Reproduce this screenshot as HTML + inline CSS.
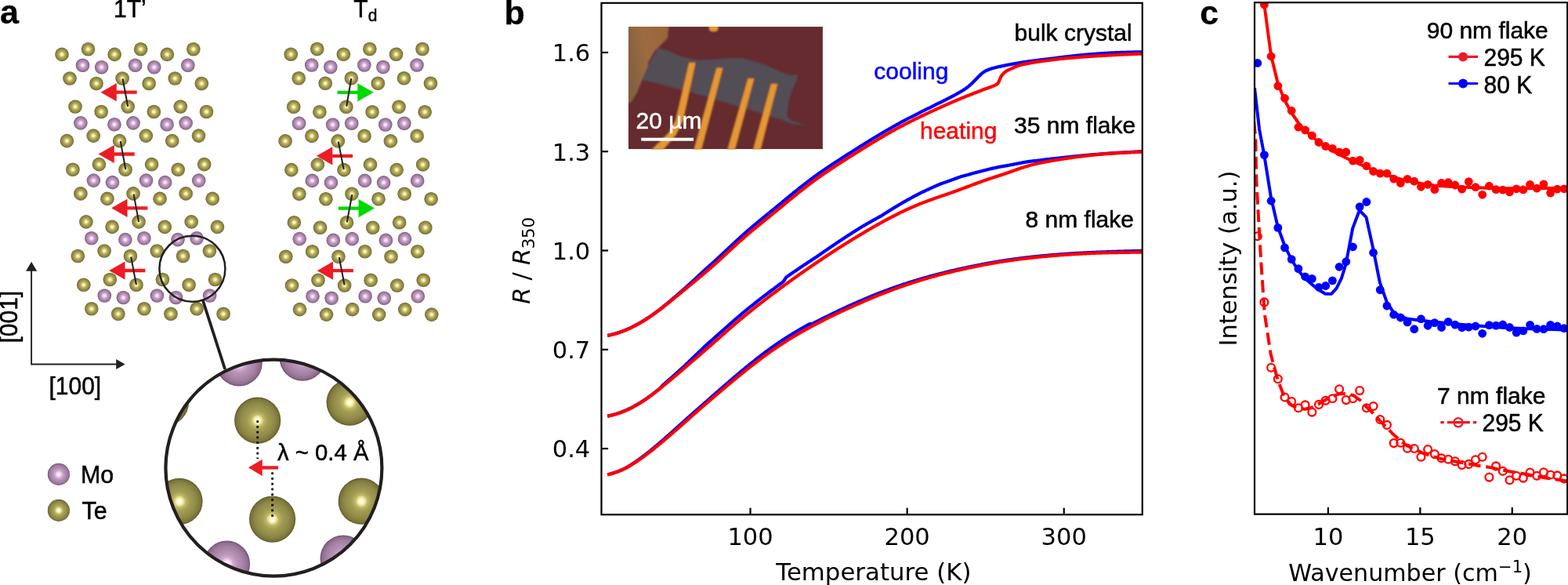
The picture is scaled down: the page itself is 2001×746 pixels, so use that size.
<!DOCTYPE html>
<html><head><meta charset="utf-8"><title>Figure</title>
<style>
html,body{margin:0;padding:0;background:#fff;width:2001px;height:746px;overflow:hidden;}
svg{display:block;}
text{white-space:pre;}
.ar{font-family:'Liberation Sans',sans-serif;stroke-width:0.5px;stroke-linejoin:round;}
.dv{font-family:'DejaVu Sans','Liberation Sans',sans-serif;}
</style></head>
<body>
<svg width="2001" height="746" viewBox="0 0 2001 746">
<rect x="0" y="0" width="2001" height="746" fill="#fff"/>

<defs>
<radialGradient id="gTe" cx="50%" cy="50%" r="50%">
<stop offset="0" stop-color="#ffffdc"/>
<stop offset="0.14" stop-color="#fbfab4"/>
<stop offset="0.36" stop-color="#c6be6a"/>
<stop offset="0.6" stop-color="#a29a4e"/>
<stop offset="0.85" stop-color="#878040"/>
<stop offset="1" stop-color="#666030"/>
</radialGradient>
<radialGradient id="gMo" cx="50%" cy="50%" r="50%">
<stop offset="0" stop-color="#ffffff"/>
<stop offset="0.14" stop-color="#fde8fd"/>
<stop offset="0.36" stop-color="#d2aad2"/>
<stop offset="0.6" stop-color="#b48eb4"/>
<stop offset="0.85" stop-color="#977497"/>
<stop offset="1" stop-color="#735473"/>
</radialGradient>
<radialGradient id="gTeB" cx="50%" cy="50%" r="50%">
<stop offset="0" stop-color="#ffffff"/>
<stop offset="0.06" stop-color="#ffffea"/>
<stop offset="0.15" stop-color="#f4f0a4"/>
<stop offset="0.27" stop-color="#beb666"/>
<stop offset="0.44" stop-color="#a29c53"/>
<stop offset="0.75" stop-color="#8e8847"/>
<stop offset="0.92" stop-color="#79743a"/>
<stop offset="1" stop-color="#5e5a2b"/>
</radialGradient>
<radialGradient id="gMoB" cx="50%" cy="50%" r="50%">
<stop offset="0" stop-color="#ffffff"/>
<stop offset="0.07" stop-color="#fff4ff"/>
<stop offset="0.16" stop-color="#f4d6f4"/>
<stop offset="0.28" stop-color="#d0aad0"/>
<stop offset="0.44" stop-color="#b994b9"/>
<stop offset="0.75" stop-color="#a280a2"/>
<stop offset="0.92" stop-color="#8c6c8c"/>
<stop offset="1" stop-color="#6c506c"/>
</radialGradient>
<radialGradient id="gTeL" cx="50%" cy="50%" r="50%">
<stop offset="0" stop-color="#ffffff"/>
<stop offset="0.08" stop-color="#ffffe4"/>
<stop offset="0.2" stop-color="#f0eca0"/>
<stop offset="0.36" stop-color="#bab264"/>
<stop offset="0.55" stop-color="#a09a52"/>
<stop offset="0.8" stop-color="#8c8646"/>
<stop offset="0.93" stop-color="#777239"/>
<stop offset="1" stop-color="#605c2c"/>
</radialGradient>
<radialGradient id="gMoL" cx="50%" cy="50%" r="50%">
<stop offset="0" stop-color="#ffffff"/>
<stop offset="0.08" stop-color="#fff2ff"/>
<stop offset="0.2" stop-color="#f0d2f0"/>
<stop offset="0.36" stop-color="#cca8cc"/>
<stop offset="0.55" stop-color="#b692b6"/>
<stop offset="0.8" stop-color="#a07ea0"/>
<stop offset="0.93" stop-color="#8a6a8a"/>
<stop offset="1" stop-color="#6e526e"/>
</radialGradient>
<clipPath id="bigclip"><circle cx="349.4" cy="596.7" r="138"/></clipPath>
<clipPath id="clipB"><rect x="767.5" y="3.8" width="690.3" height="652.45"/></clipPath>
<clipPath id="clipC"><rect x="1601" y="3.8" width="400" height="652.45"/></clipPath>
<clipPath id="clipImg"><rect x="802" y="34" width="248" height="156.5"/></clipPath>
</defs>

<g id="atoms"><circle cx="79.00" cy="69.40" r="8.8" fill="url(#gTe)"/>
<circle cx="112.50" cy="62.70" r="8.8" fill="url(#gTe)"/>
<circle cx="89.00" cy="100.00" r="8.8" fill="url(#gTe)"/>
<circle cx="123.00" cy="106.50" r="8.8" fill="url(#gTe)"/>
<circle cx="146.15" cy="69.40" r="8.8" fill="url(#gTe)"/>
<circle cx="179.65" cy="62.70" r="8.8" fill="url(#gTe)"/>
<circle cx="156.15" cy="100.00" r="8.8" fill="url(#gTe)"/>
<circle cx="190.15" cy="106.50" r="8.8" fill="url(#gTe)"/>
<circle cx="213.30" cy="69.40" r="8.8" fill="url(#gTe)"/>
<circle cx="246.80" cy="62.70" r="8.8" fill="url(#gTe)"/>
<circle cx="223.30" cy="100.00" r="8.8" fill="url(#gTe)"/>
<circle cx="257.30" cy="106.50" r="8.8" fill="url(#gTe)"/>
<circle cx="96.00" cy="136.00" r="8.8" fill="url(#gTe)"/>
<circle cx="129.20" cy="142.50" r="8.8" fill="url(#gTe)"/>
<circle cx="85.40" cy="179.60" r="8.8" fill="url(#gTe)"/>
<circle cx="119.20" cy="173.10" r="8.8" fill="url(#gTe)"/>
<circle cx="163.15" cy="136.00" r="8.8" fill="url(#gTe)"/>
<circle cx="196.35" cy="142.50" r="8.8" fill="url(#gTe)"/>
<circle cx="152.55" cy="179.60" r="8.8" fill="url(#gTe)"/>
<circle cx="186.35" cy="173.10" r="8.8" fill="url(#gTe)"/>
<circle cx="230.30" cy="136.00" r="8.8" fill="url(#gTe)"/>
<circle cx="263.50" cy="142.50" r="8.8" fill="url(#gTe)"/>
<circle cx="219.70" cy="179.60" r="8.8" fill="url(#gTe)"/>
<circle cx="253.50" cy="173.10" r="8.8" fill="url(#gTe)"/>
<circle cx="92.90" cy="216.30" r="8.8" fill="url(#gTe)"/>
<circle cx="126.40" cy="209.60" r="8.8" fill="url(#gTe)"/>
<circle cx="102.90" cy="246.90" r="8.8" fill="url(#gTe)"/>
<circle cx="136.90" cy="253.40" r="8.8" fill="url(#gTe)"/>
<circle cx="160.05" cy="216.30" r="8.8" fill="url(#gTe)"/>
<circle cx="193.55" cy="209.60" r="8.8" fill="url(#gTe)"/>
<circle cx="170.05" cy="246.90" r="8.8" fill="url(#gTe)"/>
<circle cx="204.05" cy="253.40" r="8.8" fill="url(#gTe)"/>
<circle cx="227.20" cy="216.30" r="8.8" fill="url(#gTe)"/>
<circle cx="260.70" cy="209.60" r="8.8" fill="url(#gTe)"/>
<circle cx="237.20" cy="246.90" r="8.8" fill="url(#gTe)"/>
<circle cx="271.20" cy="253.40" r="8.8" fill="url(#gTe)"/>
<circle cx="109.90" cy="282.90" r="8.8" fill="url(#gTe)"/>
<circle cx="143.10" cy="289.40" r="8.8" fill="url(#gTe)"/>
<circle cx="99.30" cy="326.50" r="8.8" fill="url(#gTe)"/>
<circle cx="133.10" cy="320.00" r="8.8" fill="url(#gTe)"/>
<circle cx="177.05" cy="282.90" r="8.8" fill="url(#gTe)"/>
<circle cx="210.25" cy="289.40" r="8.8" fill="url(#gTe)"/>
<circle cx="166.45" cy="326.50" r="8.8" fill="url(#gTe)"/>
<circle cx="200.25" cy="320.00" r="8.8" fill="url(#gTe)"/>
<circle cx="244.20" cy="282.90" r="8.8" fill="url(#gTe)"/>
<circle cx="277.40" cy="289.40" r="8.8" fill="url(#gTe)"/>
<circle cx="233.60" cy="326.50" r="8.8" fill="url(#gTe)"/>
<circle cx="267.40" cy="320.00" r="8.8" fill="url(#gTe)"/>
<circle cx="106.80" cy="363.20" r="8.8" fill="url(#gTe)"/>
<circle cx="140.30" cy="356.50" r="8.8" fill="url(#gTe)"/>
<circle cx="116.80" cy="393.80" r="8.8" fill="url(#gTe)"/>
<circle cx="150.80" cy="400.30" r="8.8" fill="url(#gTe)"/>
<circle cx="173.95" cy="363.20" r="8.8" fill="url(#gTe)"/>
<circle cx="207.45" cy="356.50" r="8.8" fill="url(#gTe)"/>
<circle cx="183.95" cy="393.80" r="8.8" fill="url(#gTe)"/>
<circle cx="217.95" cy="400.30" r="8.8" fill="url(#gTe)"/>
<circle cx="241.10" cy="363.20" r="8.8" fill="url(#gTe)"/>
<circle cx="274.60" cy="356.50" r="8.8" fill="url(#gTe)"/>
<circle cx="251.10" cy="393.80" r="8.8" fill="url(#gTe)"/>
<circle cx="285.10" cy="400.30" r="8.8" fill="url(#gTe)"/>
<circle cx="371.20" cy="69.20" r="8.8" fill="url(#gTe)"/>
<circle cx="404.70" cy="62.50" r="8.8" fill="url(#gTe)"/>
<circle cx="381.20" cy="99.80" r="8.8" fill="url(#gTe)"/>
<circle cx="415.20" cy="106.30" r="8.8" fill="url(#gTe)"/>
<circle cx="438.35" cy="69.20" r="8.8" fill="url(#gTe)"/>
<circle cx="471.85" cy="62.50" r="8.8" fill="url(#gTe)"/>
<circle cx="448.35" cy="99.80" r="8.8" fill="url(#gTe)"/>
<circle cx="482.35" cy="106.30" r="8.8" fill="url(#gTe)"/>
<circle cx="505.50" cy="69.20" r="8.8" fill="url(#gTe)"/>
<circle cx="539.00" cy="62.50" r="8.8" fill="url(#gTe)"/>
<circle cx="515.50" cy="99.80" r="8.8" fill="url(#gTe)"/>
<circle cx="549.50" cy="106.30" r="8.8" fill="url(#gTe)"/>
<circle cx="374.70" cy="136.30" r="8.8" fill="url(#gTe)"/>
<circle cx="407.90" cy="142.80" r="8.8" fill="url(#gTe)"/>
<circle cx="364.10" cy="179.90" r="8.8" fill="url(#gTe)"/>
<circle cx="397.90" cy="173.40" r="8.8" fill="url(#gTe)"/>
<circle cx="441.85" cy="136.30" r="8.8" fill="url(#gTe)"/>
<circle cx="475.05" cy="142.80" r="8.8" fill="url(#gTe)"/>
<circle cx="431.25" cy="179.90" r="8.8" fill="url(#gTe)"/>
<circle cx="465.05" cy="173.40" r="8.8" fill="url(#gTe)"/>
<circle cx="509.00" cy="136.30" r="8.8" fill="url(#gTe)"/>
<circle cx="542.20" cy="142.80" r="8.8" fill="url(#gTe)"/>
<circle cx="498.40" cy="179.90" r="8.8" fill="url(#gTe)"/>
<circle cx="532.20" cy="173.40" r="8.8" fill="url(#gTe)"/>
<circle cx="371.85" cy="216.60" r="8.8" fill="url(#gTe)"/>
<circle cx="405.35" cy="209.90" r="8.8" fill="url(#gTe)"/>
<circle cx="381.85" cy="247.20" r="8.8" fill="url(#gTe)"/>
<circle cx="415.85" cy="253.70" r="8.8" fill="url(#gTe)"/>
<circle cx="439.00" cy="216.60" r="8.8" fill="url(#gTe)"/>
<circle cx="472.50" cy="209.90" r="8.8" fill="url(#gTe)"/>
<circle cx="449.00" cy="247.20" r="8.8" fill="url(#gTe)"/>
<circle cx="483.00" cy="253.70" r="8.8" fill="url(#gTe)"/>
<circle cx="506.15" cy="216.60" r="8.8" fill="url(#gTe)"/>
<circle cx="539.65" cy="209.90" r="8.8" fill="url(#gTe)"/>
<circle cx="516.15" cy="247.20" r="8.8" fill="url(#gTe)"/>
<circle cx="550.15" cy="253.70" r="8.8" fill="url(#gTe)"/>
<circle cx="375.35" cy="283.70" r="8.8" fill="url(#gTe)"/>
<circle cx="408.55" cy="290.20" r="8.8" fill="url(#gTe)"/>
<circle cx="364.75" cy="327.30" r="8.8" fill="url(#gTe)"/>
<circle cx="398.55" cy="320.80" r="8.8" fill="url(#gTe)"/>
<circle cx="442.50" cy="283.70" r="8.8" fill="url(#gTe)"/>
<circle cx="475.70" cy="290.20" r="8.8" fill="url(#gTe)"/>
<circle cx="431.90" cy="327.30" r="8.8" fill="url(#gTe)"/>
<circle cx="465.70" cy="320.80" r="8.8" fill="url(#gTe)"/>
<circle cx="509.65" cy="283.70" r="8.8" fill="url(#gTe)"/>
<circle cx="542.85" cy="290.20" r="8.8" fill="url(#gTe)"/>
<circle cx="499.05" cy="327.30" r="8.8" fill="url(#gTe)"/>
<circle cx="532.85" cy="320.80" r="8.8" fill="url(#gTe)"/>
<circle cx="372.50" cy="364.00" r="8.8" fill="url(#gTe)"/>
<circle cx="406.00" cy="357.30" r="8.8" fill="url(#gTe)"/>
<circle cx="382.50" cy="394.60" r="8.8" fill="url(#gTe)"/>
<circle cx="416.50" cy="401.10" r="8.8" fill="url(#gTe)"/>
<circle cx="439.65" cy="364.00" r="8.8" fill="url(#gTe)"/>
<circle cx="473.15" cy="357.30" r="8.8" fill="url(#gTe)"/>
<circle cx="449.65" cy="394.60" r="8.8" fill="url(#gTe)"/>
<circle cx="483.65" cy="401.10" r="8.8" fill="url(#gTe)"/>
<circle cx="506.80" cy="364.00" r="8.8" fill="url(#gTe)"/>
<circle cx="540.30" cy="357.30" r="8.8" fill="url(#gTe)"/>
<circle cx="516.80" cy="394.60" r="8.8" fill="url(#gTe)"/>
<circle cx="550.80" cy="401.10" r="8.8" fill="url(#gTe)"/>
<circle cx="105.50" cy="83.20" r="8.8" fill="url(#gMo)"/>
<circle cx="129.60" cy="85.70" r="8.8" fill="url(#gMo)"/>
<circle cx="172.65" cy="83.20" r="8.8" fill="url(#gMo)"/>
<circle cx="196.75" cy="85.70" r="8.8" fill="url(#gMo)"/>
<circle cx="239.80" cy="83.20" r="8.8" fill="url(#gMo)"/>
<circle cx="102.85" cy="156.90" r="8.8" fill="url(#gMo)"/>
<circle cx="145.95" cy="158.70" r="8.8" fill="url(#gMo)"/>
<circle cx="170.00" cy="156.90" r="8.8" fill="url(#gMo)"/>
<circle cx="213.10" cy="158.70" r="8.8" fill="url(#gMo)"/>
<circle cx="237.15" cy="156.90" r="8.8" fill="url(#gMo)"/>
<circle cx="119.40" cy="230.10" r="8.8" fill="url(#gMo)"/>
<circle cx="143.50" cy="232.60" r="8.8" fill="url(#gMo)"/>
<circle cx="186.55" cy="230.10" r="8.8" fill="url(#gMo)"/>
<circle cx="210.65" cy="232.60" r="8.8" fill="url(#gMo)"/>
<circle cx="253.70" cy="230.10" r="8.8" fill="url(#gMo)"/>
<circle cx="116.75" cy="303.80" r="8.8" fill="url(#gMo)"/>
<circle cx="159.85" cy="305.60" r="8.8" fill="url(#gMo)"/>
<circle cx="183.90" cy="303.80" r="8.8" fill="url(#gMo)"/>
<circle cx="227.00" cy="305.60" r="8.8" fill="url(#gMo)"/>
<circle cx="251.05" cy="303.80" r="8.8" fill="url(#gMo)"/>
<circle cx="133.30" cy="377.00" r="8.8" fill="url(#gMo)"/>
<circle cx="157.40" cy="379.50" r="8.8" fill="url(#gMo)"/>
<circle cx="200.45" cy="377.00" r="8.8" fill="url(#gMo)"/>
<circle cx="224.55" cy="379.50" r="8.8" fill="url(#gMo)"/>
<circle cx="267.60" cy="377.00" r="8.8" fill="url(#gMo)"/>
<circle cx="397.70" cy="83.00" r="8.8" fill="url(#gMo)"/>
<circle cx="421.80" cy="85.50" r="8.8" fill="url(#gMo)"/>
<circle cx="464.85" cy="83.00" r="8.8" fill="url(#gMo)"/>
<circle cx="488.95" cy="85.50" r="8.8" fill="url(#gMo)"/>
<circle cx="532.00" cy="83.00" r="8.8" fill="url(#gMo)"/>
<circle cx="381.55" cy="157.20" r="8.8" fill="url(#gMo)"/>
<circle cx="424.65" cy="159.00" r="8.8" fill="url(#gMo)"/>
<circle cx="448.70" cy="157.20" r="8.8" fill="url(#gMo)"/>
<circle cx="491.80" cy="159.00" r="8.8" fill="url(#gMo)"/>
<circle cx="515.85" cy="157.20" r="8.8" fill="url(#gMo)"/>
<circle cx="398.35" cy="230.40" r="8.8" fill="url(#gMo)"/>
<circle cx="422.45" cy="232.90" r="8.8" fill="url(#gMo)"/>
<circle cx="465.50" cy="230.40" r="8.8" fill="url(#gMo)"/>
<circle cx="489.60" cy="232.90" r="8.8" fill="url(#gMo)"/>
<circle cx="532.65" cy="230.40" r="8.8" fill="url(#gMo)"/>
<circle cx="382.20" cy="304.60" r="8.8" fill="url(#gMo)"/>
<circle cx="425.30" cy="306.40" r="8.8" fill="url(#gMo)"/>
<circle cx="449.35" cy="304.60" r="8.8" fill="url(#gMo)"/>
<circle cx="492.45" cy="306.40" r="8.8" fill="url(#gMo)"/>
<circle cx="516.50" cy="304.60" r="8.8" fill="url(#gMo)"/>
<circle cx="399.00" cy="377.80" r="8.8" fill="url(#gMo)"/>
<circle cx="423.10" cy="380.30" r="8.8" fill="url(#gMo)"/>
<circle cx="466.15" cy="377.80" r="8.8" fill="url(#gMo)"/>
<circle cx="490.25" cy="380.30" r="8.8" fill="url(#gMo)"/>
<circle cx="533.30" cy="377.80" r="8.8" fill="url(#gMo)"/></g>
<path fill="#ed1c24" d="M128.50,117.70 L148.80,106.10 L148.80,115.55 L174.70,115.55 L174.70,119.85 L148.80,119.85 L148.80,129.30 Z"/>
<path fill="#ed1c24" d="M125.50,196.50 L145.80,184.90 L145.80,194.35 L171.70,194.35 L171.70,198.65 L145.80,198.65 L145.80,208.10 Z"/>
<path fill="#ed1c24" d="M142.20,265.30 L162.50,253.70 L162.50,263.15 L188.40,263.15 L188.40,267.45 L162.50,267.45 L162.50,276.90 Z"/>
<path fill="#ed1c24" d="M139.20,345.00 L159.50,333.40 L159.50,342.85 L185.40,342.85 L185.40,347.15 L159.50,347.15 L159.50,356.60 Z"/>
<path fill="#00d900" d="M476.80,117.80 L456.30,106.20 L456.30,115.65 L430.50,115.65 L430.50,119.95 L456.30,119.95 L456.30,129.40 Z"/>
<path fill="#ed1c24" d="M404.00,198.80 L424.30,187.20 L424.30,196.65 L450.20,196.65 L450.20,200.95 L424.30,200.95 L424.30,210.40 Z"/>
<path fill="#00d900" d="M478.05,265.60 L457.55,254.00 L457.55,263.45 L431.75,263.45 L431.75,267.75 L457.55,267.75 L457.55,277.20 Z"/>
<path fill="#ed1c24" d="M404.70,345.20 L425.00,333.60 L425.00,343.05 L450.90,343.05 L450.90,347.35 L425.00,347.35 L425.00,356.80 Z"/>
<line x1="156.5" y1="100.2" x2="163.2" y2="136.0" stroke="#231f20" stroke-width="2.0"/>
<line x1="153.7" y1="180.0" x2="160.3" y2="216.2" stroke="#231f20" stroke-width="2.0"/>
<line x1="170.6" y1="247.5" x2="177.1" y2="283.1" stroke="#231f20" stroke-width="2.0"/>
<line x1="167.2" y1="327.5" x2="173.9" y2="363.1" stroke="#231f20" stroke-width="2.0"/>
<line x1="448.3" y1="100.0" x2="442.2" y2="135.6" stroke="#231f20" stroke-width="2.0"/>
<line x1="431.8" y1="180.6" x2="438.7" y2="216.2" stroke="#231f20" stroke-width="2.0"/>
<line x1="449.3" y1="248.1" x2="442.8" y2="283.5" stroke="#231f20" stroke-width="2.0"/>
<line x1="432.8" y1="328.1" x2="439.6" y2="363.5" stroke="#231f20" stroke-width="2.0"/>
<circle cx="245.4" cy="342.7" r="42.0" fill="none" stroke="#231f20" stroke-width="2.5"/>
<line x1="258.7" y1="382.5" x2="287.2" y2="471" stroke="#231f20" stroke-width="3.8"/>
<g clip-path="url(#bigclip)">
<circle cx="328.7" cy="536.1" r="29.6" fill="url(#gTeB)"/>
<circle cx="347.6" cy="662.1" r="29.6" fill="url(#gTeB)"/>
<circle cx="446.2" cy="513.2" r="29.6" fill="url(#gTeB)"/>
<circle cx="229.0" cy="639.4" r="29.6" fill="url(#gTeB)"/>
<circle cx="461.2" cy="639.2" r="29.6" fill="url(#gTeB)"/>
<circle cx="211.5" cy="513.0" r="29.6" fill="url(#gTeB)"/>
<circle cx="305.1" cy="462.9" r="29.6" fill="url(#gMoB)"/>
<circle cx="386.1" cy="456.1" r="29.6" fill="url(#gMoB)"/>
<circle cx="289.5" cy="719.1" r="29.6" fill="url(#gMoB)"/>
<circle cx="438.1" cy="712.0" r="29.6" fill="url(#gMoB)"/>
</g>
<circle cx="349.4" cy="596.7" r="138" fill="none" stroke="#231f20" stroke-width="4.2"/>
<line x1="328.7" y1="536.3" x2="328.7" y2="585" stroke="#000" stroke-width="2.7" stroke-dasharray="2.6 4.15"/>
<line x1="347.6" y1="602.3" x2="347.6" y2="662.5" stroke="#000" stroke-width="2.7" stroke-dasharray="2.6 4.15"/>
<path fill="#ed1c24" d="M316.90,596.30 L334.70,585.70 L334.70,594.15 L355.00,594.15 L355.00,598.45 L334.70,598.45 L334.70,606.90 Z"/>
<text x="354" y="586.9" class="ar" stroke="#000" font-size="29.5" fill="#000" textLength="116.5" lengthAdjust="spacingAndGlyphs">λ ~ 0.4 Å</text>
<circle cx="74.9" cy="604.9" r="14.1" fill="url(#gMoL)"/>
<circle cx="74.9" cy="650.9" r="14.1" fill="url(#gTeL)"/>
<text transform="translate(103,615.9) scale(1,1.04)" class="ar" stroke="#000" font-size="30.4" fill="#000">Mo</text>
<text transform="translate(104.5,662) scale(1,1.04)" class="ar" stroke="#000" font-size="30.4" fill="#000">Te</text>
<path d="M40.1,345 L40.1,464.5 L149,464.5" fill="none" stroke="#231f20" stroke-width="1.9"/>
<path d="M40.1,333.7 L33.1,345.8 L47.2,345.8 Z" fill="#231f20"/>
<path d="M159.6,464.5 L148.2,457.9 L148.2,471.1 Z" fill="#231f20"/>
<text transform="translate(62.5,502.7) scale(1,1.04)" class="ar" stroke="#000" font-size="30" fill="#000">[100]</text>
<text transform="translate(21.8,437.5) rotate(-90) scale(1,1.04)" class="ar" stroke="#000" font-size="30" fill="#000">[001]</text>
<text transform="translate(145,22.2) scale(1,1.04)" class="ar" stroke="#000" font-size="30" fill="#000">1T’</text>
<text transform="translate(451.3,22.2) scale(1,1.04)" class="ar" stroke="#000" font-size="30" fill="#000">T<tspan font-size="21" dy="4.5">d</tspan></text>
<text x="0" y="30.4" class="ar" style="stroke-width:0.3px" stroke="#000" font-size="43" font-weight="bold" fill="#000">a</text>
<text x="643.5" y="30.6" class="ar" style="stroke-width:0.3px" stroke="#000" font-size="43" font-weight="bold" fill="#000">b</text>
<text x="1531.3" y="30.8" class="ar" style="stroke-width:0.3px" stroke="#000" font-size="43" font-weight="bold" fill="#000">c</text>
<defs>
<filter id="blur1" x="-5%" y="-5%" width="110%" height="110%"><feGaussianBlur stdDeviation="0.8"/></filter>
<linearGradient id="gBrown" x1="0" y1="0.3" x2="1" y2="0" gradientUnits="objectBoundingBox">
<stop offset="0" stop-color="#80603f"/><stop offset="0.45" stop-color="#9c6c40"/><stop offset="1" stop-color="#98643a"/>
</linearGradient></defs>
<g clip-path="url(#clipImg)">
<rect x="801.8" y="34.1" width="248.1" height="156.0" fill="#652b2f"/>
<g filter="url(#blur1)">
<polygon points="795.0,28.0 854.0,28.0 852.2,48.3 843.4,57.3 835.5,65.1 827.0,79.8 826.5,89.9 819.8,101.2 813.0,118.1 806.3,129.3 795.0,136.1" fill="url(#gBrown)"/>
<polygon points="840.0,61.3 853.5,65.1 869.3,71.9 889.6,76.4 907.6,75.7 930.1,74.2 948.1,74.2 963.9,78.7 975.1,82.0 986.4,87.0 997.6,92.2 1008.9,96.0 1018.3,95.1 1016.8,102.3 1011.6,113.6 1007.1,127.1 1004.8,140.6 1004.8,149.6 1011.1,154.1 1029.2,159.9 1011.1,158.1 998.8,153.2 952.6,138.8 885.1,118.5 819.3,101.4 828.8,79.8" fill="#524d57"/>
<polygon points="879.0,79.3 888.2,79.3 872.0,154.1 863.0,172.1 846.3,191.2 831.0,191.2 852.6,169.8 861.6,154.1" fill="#e49836" stroke="#7a3424" stroke-width="0.9"/>
<polygon points="914.1,86.1 923.1,86.1 895.4,191.2 885.1,191.2" fill="#e49836" stroke="#7a3424" stroke-width="0.9"/>
<polygon points="954.2,99.6 963.0,99.6 938.2,191.2 927.8,191.2" fill="#e49836" stroke="#7a3424" stroke-width="0.9"/>
<polygon points="983.7,106.4 992.9,106.4 970.8,191.2 960.5,191.2" fill="#e49836" stroke="#7a3424" stroke-width="0.9"/>
<path d="M904.6,32.5 L916.8,32.5 L916.8,37.5 Q915.5,40.8 910.7,40.8 Q905.8,40.8 904.6,37.5 Z" fill="#e49836" stroke="#7a3424" stroke-width="0.9"/>
</g>
<rect x="818.2" y="175.7" width="66.9" height="4.0" fill="#fff"/>
<text x="811.5" y="163.8" class="ar" stroke="#fff" font-size="30" fill="#fff">20 µm</text>
</g>
<g clip-path="url(#clipB)" fill="none" stroke-linejoin="round" stroke-linecap="butt">
<path d="M775.20,427.90 L776.18,427.68 L777.15,427.45 L778.13,427.23 L779.10,427.00 L780.08,426.76 L781.06,426.52 L782.03,426.28 L783.01,426.02 L783.98,425.76 L784.96,425.49 L785.93,425.22 L786.91,424.93 L787.89,424.63 L788.86,424.33 L789.84,424.01 L790.81,423.68 L791.79,423.35 L792.77,423.00 L793.74,422.64 L794.72,422.28 L795.69,421.90 L796.67,421.51 L797.64,421.12 L798.62,420.71 L799.60,420.30 L800.57,419.88 L801.55,419.44 L802.52,419.00 L803.50,418.55 L804.48,418.10 L805.45,417.63 L806.43,417.15 L807.40,416.67 L808.38,416.18 L809.35,415.68 L810.33,415.18 L811.31,414.66 L812.28,414.14 L813.26,413.61 L814.23,413.07 L815.21,412.52 L816.19,411.97 L817.16,411.41 L818.14,410.84 L819.11,410.26 L820.09,409.67 L821.06,409.08 L822.04,408.48 L823.02,407.87 L823.99,407.25 L824.97,406.63 L825.94,405.99 L826.92,405.35 L827.90,404.70 L828.87,404.05 L829.85,403.39 L830.82,402.72 L831.80,402.04 L832.77,401.36 L833.75,400.66 L834.73,399.97 L835.70,399.27 L836.68,398.56 L837.65,397.84 L838.63,397.12 L839.61,396.39 L840.58,395.64 L841.56,394.88 L842.53,394.12 L843.51,393.34 L844.48,392.57 L845.46,391.79 L846.44,391.00 L847.41,390.21 L848.39,389.42 L849.36,388.62 L850.34,387.82 L851.32,387.01 L852.29,386.20 L853.27,385.39 L854.24,384.58 L855.22,383.76 L856.19,382.94 L857.17,382.12 L858.15,381.30 L859.12,380.47 L860.10,379.64 L861.07,378.81 L862.05,377.98 L863.03,377.15 L864.00,376.31 L864.98,375.47 L865.95,374.62 L866.93,373.77 L867.90,372.92 L868.88,372.07 L869.86,371.22 L870.83,370.37 L871.81,369.53 L872.78,368.68 L873.76,367.83 L874.74,366.98 L875.71,366.14 L876.69,365.29 L877.66,364.43 L878.64,363.55 L879.61,362.66 L880.59,361.75 L881.57,360.85 L882.54,359.95 L883.52,359.05 L884.49,358.14 L885.47,357.24 L886.45,356.34 L887.42,355.44 L888.40,354.53 L889.37,353.63 L890.35,352.72 L891.32,351.81 L892.30,350.91 L893.28,350.00 L894.25,349.08 L895.23,348.17 L896.20,347.25 L897.18,346.33 L898.16,345.41 L899.13,344.49 L900.11,343.59 L901.08,342.72 L902.06,341.87 L903.04,341.02 L904.01,340.16 L904.99,339.30 L905.96,338.44 L906.94,337.57 L907.91,336.70 L908.89,335.83 L909.87,334.95 L910.84,334.07 L911.82,333.18 L912.79,332.30 L913.77,331.40 L914.75,330.51 L915.72,329.61 L916.70,328.71 L917.67,327.81 L918.65,326.90 L919.62,326.00 L920.60,325.09 L921.58,324.18 L922.55,323.26 L923.53,322.35 L924.50,321.44 L925.48,320.52 L926.46,319.60 L927.43,318.69 L928.41,317.77 L929.38,316.86 L930.36,315.94 L931.33,315.03 L932.31,314.11 L933.29,313.20 L934.26,312.29 L935.24,311.38 L936.21,310.47 L937.19,309.56 L938.17,308.66 L939.14,307.76 L940.12,306.86 L941.09,305.96 L942.07,305.07 L943.04,304.18 L944.02,303.29 L945.00,302.40 L945.97,301.52 L946.95,300.65 L947.92,299.77 L948.90,298.91 L949.88,298.04 L950.85,297.18 L951.83,296.32 L952.80,295.47 L953.78,294.62 L954.75,293.77 L955.73,292.93 L956.71,292.09 L957.68,291.25 L958.66,290.42 L959.63,289.59 L960.61,288.77 L961.59,287.94 L962.56,287.12 L963.54,286.30 L964.51,285.49 L965.49,284.68 L966.46,283.86 L967.44,283.05 L968.42,282.25 L969.39,281.44 L970.37,280.63 L971.34,279.83 L972.32,279.02 L973.30,278.22 L974.27,277.42 L975.25,276.62 L976.22,275.81 L977.20,275.01 L978.17,274.21 L979.15,273.41 L980.13,272.61 L981.10,271.81 L982.08,271.02 L983.05,270.23 L984.03,269.44 L985.01,268.65 L985.98,267.86 L986.96,267.06 L987.93,266.27 L988.91,265.47 L989.88,264.67 L990.86,263.87 L991.84,263.07 L992.81,262.28 L993.79,261.47 L994.76,260.67 L995.74,259.87 L996.72,259.07 L997.69,258.27 L998.67,257.46 L999.64,256.66 L1000.62,255.85 L1001.59,255.05 L1002.57,254.25 L1003.55,253.44 L1004.52,252.64 L1005.50,251.84 L1006.47,251.04 L1007.45,250.24 L1008.43,249.44 L1009.40,248.64 L1010.38,247.84 L1011.35,247.04 L1012.33,246.25 L1013.30,245.46 L1014.28,244.66 L1015.26,243.87 L1016.23,243.09 L1017.21,242.30 L1018.18,241.52 L1019.16,240.73 L1020.14,239.95 L1021.11,239.18 L1022.09,238.40 L1023.06,237.63 L1024.04,236.86 L1025.02,236.10 L1025.99,235.34 L1026.97,234.58 L1027.94,233.82 L1028.92,233.07 L1029.89,232.32 L1030.87,231.58 L1031.85,230.84 L1032.82,230.10 L1033.80,229.36 L1034.77,228.63 L1035.75,227.91 L1036.73,227.19 L1037.70,226.47 L1038.68,225.75 L1039.65,225.04 L1040.63,224.33 L1041.60,223.63 L1042.58,222.93 L1043.56,222.24 L1044.53,221.54 L1045.51,220.85 L1046.48,220.17 L1047.46,219.49 L1048.44,218.81 L1049.41,218.13 L1050.39,217.46 L1051.36,216.79 L1052.34,216.12 L1053.31,215.46 L1054.29,214.80 L1055.27,214.14 L1056.24,213.49 L1057.22,212.83 L1058.19,212.18 L1059.17,211.53 L1060.15,210.89 L1061.12,210.24 L1062.10,209.60 L1063.07,208.96 L1064.05,208.32 L1065.02,207.69 L1066.00,207.05 L1066.98,206.42 L1067.95,205.79 L1068.93,205.15 L1069.90,204.53 L1070.88,203.90 L1071.86,203.27 L1072.83,202.64 L1073.81,202.01 L1074.78,201.38 L1075.76,200.75 L1076.73,200.13 L1077.71,199.50 L1078.69,198.88 L1079.66,198.25 L1080.64,197.63 L1081.61,197.00 L1082.59,196.38 L1083.57,195.76 L1084.54,195.14 L1085.52,194.52 L1086.49,193.89 L1087.47,193.28 L1088.44,192.66 L1089.42,192.04 L1090.40,191.42 L1091.37,190.80 L1092.35,190.19 L1093.32,189.57 L1094.30,188.95 L1095.28,188.34 L1096.25,187.73 L1097.23,187.11 L1098.20,186.50 L1099.18,185.89 L1100.15,185.28 L1101.13,184.67 L1102.11,184.06 L1103.08,183.45 L1104.06,182.85 L1105.03,182.24 L1106.01,181.64 L1106.99,181.03 L1107.96,180.43 L1108.94,179.83 L1109.91,179.23 L1110.89,178.63 L1111.86,178.04 L1112.84,177.44 L1113.82,176.84 L1114.79,176.25 L1115.77,175.66 L1116.74,175.07 L1117.72,174.48 L1118.70,173.89 L1119.67,173.30 L1120.65,172.72 L1121.62,172.14 L1122.60,171.55 L1123.57,170.97 L1124.55,170.40 L1125.53,169.82 L1126.50,169.24 L1127.48,168.67 L1128.45,168.10 L1129.43,167.53 L1130.41,166.96 L1131.38,166.39 L1132.36,165.83 L1133.33,165.27 L1134.31,164.71 L1135.28,164.15 L1136.26,163.59 L1137.24,163.04 L1138.21,162.48 L1139.19,161.93 L1140.16,161.39 L1141.14,160.84 L1142.12,160.28 L1143.09,159.73 L1144.07,159.18 L1145.04,158.63 L1146.02,158.09 L1146.99,157.55 L1147.97,157.01 L1148.95,156.47 L1149.92,155.93 L1150.90,155.40 L1151.87,154.87 L1152.85,154.35 L1153.83,153.83 L1154.80,153.30 L1155.78,152.79 L1156.75,152.27 L1157.73,151.76 L1158.71,151.26 L1159.68,150.75 L1160.66,150.25 L1161.63,149.75 L1162.61,149.26 L1163.58,148.76 L1164.56,148.27 L1165.54,147.78 L1166.51,147.28 L1167.49,146.79 L1168.46,146.30 L1169.44,145.81 L1170.42,145.32 L1171.39,144.83 L1172.37,144.35 L1173.34,143.86 L1174.32,143.37 L1175.29,142.88 L1176.27,142.39 L1177.25,141.90 L1178.22,141.41 L1179.20,140.92 L1180.17,140.43 L1181.15,139.95 L1182.13,139.46 L1183.10,138.98 L1184.08,138.49 L1185.05,138.01 L1186.03,137.53 L1187.00,137.04 L1187.98,136.56 L1188.96,136.08 L1189.93,135.60 L1190.91,135.11 L1191.88,134.63 L1192.86,134.15 L1193.84,133.67 L1194.81,133.18 L1195.79,132.70 L1196.76,132.21 L1197.74,131.73 L1198.71,131.25 L1199.69,130.76 L1200.67,130.28 L1201.64,129.80 L1202.62,129.31 L1203.59,128.83 L1204.57,128.35 L1205.55,127.87 L1206.52,127.38 L1207.50,126.90 L1208.47,126.41 L1209.45,125.92 L1210.42,125.43 L1211.40,124.94 L1212.38,124.43 L1213.35,123.93 L1214.33,123.42 L1215.30,122.90 L1216.28,122.38 L1217.26,121.85 L1218.23,121.32 L1219.21,120.78 L1220.18,120.24 L1221.16,119.69 L1222.13,119.14 L1223.11,118.59 L1224.09,118.03 L1225.06,117.47 L1226.04,116.90 L1227.01,116.32 L1227.99,115.74 L1228.97,115.14 L1229.94,114.52 L1230.92,113.89 L1231.89,113.22 L1232.87,112.53 L1233.84,111.81 L1234.82,111.05 L1235.80,110.27 L1236.77,109.46 L1237.75,108.61 L1238.72,107.74 L1239.70,106.85 L1240.68,105.92 L1241.65,104.98 L1242.63,104.01 L1243.60,103.02 L1244.58,102.01 L1245.55,100.99 L1246.53,99.97 L1247.51,98.96 L1248.48,97.95 L1249.46,96.97 L1250.43,96.02 L1251.41,95.10 L1252.39,94.23 L1253.36,93.41 L1254.34,92.65 L1255.31,91.96 L1256.29,91.32 L1257.26,90.75 L1258.24,90.23 L1259.22,89.76 L1260.19,89.34 L1261.17,88.94 L1262.14,88.58 L1263.12,88.23 L1264.10,87.91 L1265.07,87.60 L1266.05,87.31 L1267.02,87.03 L1268.00,86.75 L1268.97,86.49 L1269.95,86.24 L1270.93,85.99 L1271.90,85.76 L1272.88,85.52 L1273.85,85.30 L1274.83,85.07 L1275.81,84.86 L1276.78,84.64 L1277.76,84.43 L1278.73,84.23 L1279.71,84.02 L1280.69,83.82 L1281.66,83.62 L1282.64,83.42 L1283.61,83.23 L1284.59,83.04 L1285.56,82.84 L1286.54,82.66 L1287.52,82.47 L1288.49,82.28 L1289.47,82.10 L1290.44,81.92 L1291.42,81.74 L1292.40,81.57 L1293.37,81.39 L1294.35,81.22 L1295.32,81.05 L1296.30,80.88 L1297.27,80.71 L1298.25,80.55 L1299.23,80.38 L1300.20,80.22 L1301.18,80.06 L1302.15,79.91 L1303.13,79.75 L1304.11,79.60 L1305.08,79.45 L1306.06,79.30 L1307.03,79.15 L1308.01,79.01 L1308.98,78.87 L1309.96,78.72 L1310.94,78.58 L1311.91,78.44 L1312.89,78.31 L1313.86,78.17 L1314.84,78.03 L1315.82,77.90 L1316.79,77.77 L1317.77,77.64 L1318.74,77.51 L1319.72,77.38 L1320.69,77.25 L1321.67,77.12 L1322.65,77.00 L1323.62,76.88 L1324.60,76.76 L1325.57,76.64 L1326.55,76.52 L1327.53,76.40 L1328.50,76.29 L1329.48,76.18 L1330.45,76.07 L1331.43,75.95 L1332.40,75.84 L1333.38,75.74 L1334.36,75.63 L1335.33,75.51 L1336.31,75.40 L1337.28,75.29 L1338.26,75.18 L1339.24,75.06 L1340.21,74.94 L1341.19,74.83 L1342.16,74.70 L1343.14,74.58 L1344.11,74.46 L1345.09,74.33 L1346.07,74.21 L1347.04,74.08 L1348.02,73.95 L1348.99,73.82 L1349.97,73.69 L1350.95,73.57 L1351.92,73.44 L1352.90,73.31 L1353.87,73.18 L1354.85,73.06 L1355.82,72.93 L1356.80,72.81 L1357.78,72.69 L1358.75,72.57 L1359.73,72.45 L1360.70,72.34 L1361.68,72.22 L1362.66,72.11 L1363.63,71.99 L1364.61,71.88 L1365.58,71.77 L1366.56,71.66 L1367.53,71.55 L1368.51,71.44 L1369.49,71.33 L1370.46,71.22 L1371.44,71.12 L1372.41,71.01 L1373.39,70.91 L1374.37,70.81 L1375.34,70.71 L1376.32,70.61 L1377.29,70.51 L1378.27,70.41 L1379.24,70.32 L1380.22,70.23 L1381.20,70.13 L1382.17,70.04 L1383.15,69.95 L1384.12,69.87 L1385.10,69.78 L1386.08,69.69 L1387.05,69.61 L1388.03,69.52 L1389.00,69.44 L1389.98,69.36 L1390.95,69.28 L1391.93,69.20 L1392.91,69.12 L1393.88,69.04 L1394.86,68.96 L1395.83,68.89 L1396.81,68.81 L1397.79,68.74 L1398.76,68.67 L1399.74,68.59 L1400.71,68.52 L1401.69,68.45 L1402.67,68.38 L1403.64,68.32 L1404.62,68.25 L1405.59,68.18 L1406.57,68.11 L1407.54,68.05 L1408.52,67.98 L1409.50,67.92 L1410.47,67.86 L1411.45,67.79 L1412.42,67.73 L1413.40,67.68 L1414.38,67.62 L1415.35,67.57 L1416.33,67.51 L1417.30,67.46 L1418.28,67.41 L1419.25,67.37 L1420.23,67.32 L1421.21,67.28 L1422.18,67.24 L1423.16,67.20 L1424.13,67.16 L1425.11,67.12 L1426.09,67.08 L1427.06,67.05 L1428.04,67.01 L1429.01,66.98 L1429.99,66.95 L1430.96,66.92 L1431.94,66.88 L1432.92,66.85 L1433.89,66.82 L1434.87,66.79 L1435.84,66.76 L1436.82,66.74 L1437.80,66.71 L1438.77,66.68 L1439.75,66.65 L1440.72,66.63 L1441.70,66.60 L1442.67,66.57 L1443.65,66.55 L1444.63,66.52 L1445.60,66.50 L1446.58,66.47 L1447.55,66.45 L1448.53,66.42 L1449.51,66.40 L1450.48,66.38 L1451.46,66.36 L1452.43,66.33 L1453.41,66.31 L1454.38,66.29 L1455.36,66.27 L1456.34,66.25 L1457.31,66.23" stroke="#0000ff" stroke-width="4.2"/>
<path d="M775.20,428.10 L776.18,427.88 L777.15,427.66 L778.13,427.43 L779.10,427.20 L780.08,426.97 L781.06,426.73 L782.03,426.49 L783.01,426.24 L783.98,425.98 L784.96,425.71 L785.93,425.43 L786.91,425.15 L787.89,424.85 L788.86,424.55 L789.84,424.23 L790.81,423.91 L791.79,423.57 L792.77,423.23 L793.74,422.87 L794.72,422.51 L795.69,422.13 L796.67,421.75 L797.64,421.35 L798.62,420.95 L799.60,420.54 L800.57,420.11 L801.55,419.68 L802.52,419.25 L803.50,418.80 L804.48,418.34 L805.45,417.88 L806.43,417.40 L807.40,416.92 L808.38,416.43 L809.35,415.93 L810.33,415.43 L811.31,414.92 L812.28,414.39 L813.26,413.87 L814.23,413.33 L815.21,412.78 L816.19,412.23 L817.16,411.67 L818.14,411.10 L819.11,410.53 L820.09,409.94 L821.06,409.35 L822.04,408.75 L823.02,408.14 L823.99,407.53 L824.97,406.90 L825.94,406.27 L826.92,405.63 L827.90,404.99 L828.87,404.33 L829.85,403.67 L830.82,403.00 L831.80,402.33 L832.77,401.64 L833.75,400.96 L834.73,400.26 L835.70,399.56 L836.68,398.85 L837.65,398.14 L838.63,397.42 L839.61,396.69 L840.58,395.96 L841.56,395.23 L842.53,394.49 L843.51,393.75 L844.48,393.00 L845.46,392.24 L846.44,391.49 L847.41,390.73 L848.39,389.96 L849.36,389.19 L850.34,388.42 L851.32,387.64 L852.29,386.86 L853.27,386.08 L854.24,385.29 L855.22,384.51 L856.19,383.72 L857.17,382.92 L858.15,382.13 L859.12,381.33 L860.10,380.53 L861.07,379.73 L862.05,378.92 L863.03,378.12 L864.00,377.32 L864.98,376.51 L865.95,375.70 L866.93,374.90 L867.90,374.09 L868.88,373.28 L869.86,372.47 L870.83,371.67 L871.81,370.86 L872.78,370.05 L873.76,369.25 L874.74,368.44 L875.71,367.64 L876.69,366.83 L877.66,366.03 L878.64,365.23 L879.61,364.43 L880.59,363.63 L881.57,362.82 L882.54,362.02 L883.52,361.22 L884.49,360.42 L885.47,359.62 L886.45,358.82 L887.42,358.02 L888.40,357.22 L889.37,356.42 L890.35,355.61 L891.32,354.81 L892.30,354.00 L893.28,353.19 L894.25,352.38 L895.23,351.57 L896.20,350.75 L897.18,349.93 L898.16,349.11 L899.13,348.29 L900.11,347.46 L901.08,346.63 L902.06,345.80 L903.04,344.96 L904.01,344.12 L904.99,343.27 L905.96,342.42 L906.94,341.57 L907.91,340.71 L908.89,339.85 L909.87,338.99 L910.84,338.12 L911.82,337.25 L912.79,336.37 L913.77,335.49 L914.75,334.61 L915.72,333.73 L916.70,332.84 L917.67,331.95 L918.65,331.06 L919.62,330.17 L920.60,329.27 L921.58,328.37 L922.55,327.47 L923.53,326.57 L924.50,325.67 L925.48,324.77 L926.46,323.87 L927.43,322.97 L928.41,322.06 L929.38,321.16 L930.36,320.26 L931.33,319.36 L932.31,318.46 L933.29,317.56 L934.26,316.66 L935.24,315.76 L936.21,314.87 L937.19,313.97 L938.17,313.08 L939.14,312.19 L940.12,311.31 L941.09,310.42 L942.07,309.54 L943.04,308.67 L944.02,307.79 L945.00,306.92 L945.97,306.06 L946.95,305.19 L947.92,304.33 L948.90,303.48 L949.88,302.63 L950.85,301.78 L951.83,300.93 L952.80,300.09 L953.78,299.26 L954.75,298.42 L955.73,297.59 L956.71,296.77 L957.68,295.95 L958.66,295.13 L959.63,294.31 L960.61,293.50 L961.59,292.69 L962.56,291.88 L963.54,291.08 L964.51,290.28 L965.49,289.48 L966.46,288.68 L967.44,287.88 L968.42,287.09 L969.39,286.29 L970.37,285.50 L971.34,284.71 L972.32,283.92 L973.30,283.13 L974.27,282.34 L975.25,281.55 L976.22,280.76 L977.20,279.97 L978.17,279.18 L979.15,278.39 L980.13,277.60 L981.10,276.81 L982.08,276.02 L983.05,275.23 L984.03,274.43 L985.01,273.64 L985.98,272.84 L986.96,272.05 L987.93,271.25 L988.91,270.45 L989.88,269.65 L990.86,268.85 L991.84,268.05 L992.81,267.25 L993.79,266.44 L994.76,265.64 L995.74,264.84 L996.72,264.03 L997.69,263.23 L998.67,262.42 L999.64,261.62 L1000.62,260.81 L1001.59,260.00 L1002.57,259.20 L1003.55,258.39 L1004.52,257.59 L1005.50,256.78 L1006.47,255.98 L1007.45,255.18 L1008.43,254.38 L1009.40,253.57 L1010.38,252.77 L1011.35,251.98 L1012.33,251.18 L1013.30,250.38 L1014.28,249.59 L1015.26,248.80 L1016.23,248.01 L1017.21,247.22 L1018.18,246.43 L1019.16,245.65 L1020.14,244.87 L1021.11,244.09 L1022.09,243.31 L1023.06,242.54 L1024.04,241.77 L1025.02,241.00 L1025.99,240.24 L1026.97,239.48 L1027.94,238.72 L1028.92,237.96 L1029.89,237.21 L1030.87,236.47 L1031.85,235.72 L1032.82,234.98 L1033.80,234.25 L1034.77,233.52 L1035.75,232.79 L1036.73,232.06 L1037.70,231.34 L1038.68,230.63 L1039.65,229.91 L1040.63,229.20 L1041.60,228.50 L1042.58,227.80 L1043.56,227.10 L1044.53,226.40 L1045.51,225.71 L1046.48,225.02 L1047.46,224.34 L1048.44,223.66 L1049.41,222.98 L1050.39,222.31 L1051.36,221.64 L1052.34,220.97 L1053.31,220.30 L1054.29,219.64 L1055.27,218.98 L1056.24,218.32 L1057.22,217.66 L1058.19,217.01 L1059.17,216.36 L1060.15,215.71 L1061.12,215.07 L1062.10,214.42 L1063.07,213.78 L1064.05,213.14 L1065.02,212.50 L1066.00,211.86 L1066.98,211.23 L1067.95,210.59 L1068.93,209.96 L1069.90,209.33 L1070.88,208.70 L1071.86,208.07 L1072.83,207.44 L1073.81,206.82 L1074.78,206.19 L1075.76,205.56 L1076.73,204.94 L1077.71,204.32 L1078.69,203.69 L1079.66,203.07 L1080.64,202.45 L1081.61,201.83 L1082.59,201.21 L1083.57,200.59 L1084.54,199.97 L1085.52,199.35 L1086.49,198.74 L1087.47,198.12 L1088.44,197.50 L1089.42,196.89 L1090.40,196.27 L1091.37,195.66 L1092.35,195.04 L1093.32,194.43 L1094.30,193.82 L1095.28,193.21 L1096.25,192.60 L1097.23,191.99 L1098.20,191.38 L1099.18,190.77 L1100.15,190.16 L1101.13,189.56 L1102.11,188.95 L1103.08,188.34 L1104.06,187.74 L1105.03,187.14 L1106.01,186.54 L1106.99,185.94 L1107.96,185.34 L1108.94,184.74 L1109.91,184.14 L1110.89,183.55 L1111.86,182.95 L1112.84,182.36 L1113.82,181.77 L1114.79,181.17 L1115.77,180.59 L1116.74,180.00 L1117.72,179.41 L1118.70,178.83 L1119.67,178.24 L1120.65,177.66 L1121.62,177.08 L1122.60,176.50 L1123.57,175.92 L1124.55,175.35 L1125.53,174.77 L1126.50,174.20 L1127.48,173.63 L1128.45,173.06 L1129.43,172.49 L1130.41,171.93 L1131.38,171.37 L1132.36,170.80 L1133.33,170.24 L1134.31,169.69 L1135.28,169.13 L1136.26,168.58 L1137.24,168.03 L1138.21,167.48 L1139.19,166.93 L1140.16,166.38 L1141.14,165.84 L1142.12,165.30 L1143.09,164.76 L1144.07,164.23 L1145.04,163.70 L1146.02,163.17 L1146.99,162.64 L1147.97,162.11 L1148.95,161.59 L1149.92,161.07 L1150.90,160.56 L1151.87,160.04 L1152.85,159.53 L1153.83,159.02 L1154.80,158.52 L1155.78,158.01 L1156.75,157.52 L1157.73,157.02 L1158.71,156.52 L1159.68,156.03 L1160.66,155.54 L1161.63,155.06 L1162.61,154.57 L1163.58,154.09 L1164.56,153.61 L1165.54,153.13 L1166.51,152.65 L1167.49,152.18 L1168.46,151.70 L1169.44,151.23 L1170.42,150.76 L1171.39,150.29 L1172.37,149.82 L1173.34,149.36 L1174.32,148.89 L1175.29,148.43 L1176.27,147.96 L1177.25,147.50 L1178.22,147.04 L1179.20,146.57 L1180.17,146.11 L1181.15,145.65 L1182.13,145.19 L1183.10,144.74 L1184.08,144.28 L1185.05,143.82 L1186.03,143.37 L1187.00,142.91 L1187.98,142.46 L1188.96,142.01 L1189.93,141.55 L1190.91,141.10 L1191.88,140.65 L1192.86,140.20 L1193.84,139.76 L1194.81,139.31 L1195.79,138.87 L1196.76,138.42 L1197.74,137.98 L1198.71,137.54 L1199.69,137.10 L1200.67,136.66 L1201.64,136.22 L1202.62,135.78 L1203.59,135.35 L1204.57,134.91 L1205.55,134.48 L1206.52,134.05 L1207.50,133.62 L1208.47,133.19 L1209.45,132.76 L1210.42,132.33 L1211.40,131.91 L1212.38,131.48 L1213.35,131.06 L1214.33,130.64 L1215.30,130.22 L1216.28,129.80 L1217.26,129.38 L1218.23,128.97 L1219.21,128.55 L1220.18,128.14 L1221.16,127.73 L1222.13,127.32 L1223.11,126.91 L1224.09,126.51 L1225.06,126.10 L1226.04,125.70 L1227.01,125.30 L1227.99,124.90 L1228.97,124.50 L1229.94,124.10 L1230.92,123.71 L1231.89,123.31 L1232.87,122.92 L1233.84,122.53 L1234.82,122.14 L1235.80,121.75 L1236.77,121.36 L1237.75,120.97 L1238.72,120.58 L1239.70,120.20 L1240.68,119.81 L1241.65,119.43 L1242.63,119.06 L1243.60,118.68 L1244.58,118.30 L1245.55,117.93 L1246.53,117.55 L1247.51,117.17 L1248.48,116.80 L1249.46,116.42 L1250.43,116.05 L1251.41,115.67 L1252.39,115.29 L1253.36,114.91 L1254.34,114.53 L1255.31,114.16 L1256.29,113.80 L1257.26,113.44 L1258.24,113.09 L1259.22,112.75 L1260.19,112.40 L1261.17,112.05 L1262.14,111.69 L1263.12,111.34 L1264.10,111.00 L1265.07,110.65 L1266.05,110.29 L1267.02,109.91 L1268.00,109.49 L1268.97,109.07 L1269.95,108.65 L1270.93,108.18 L1271.90,107.62 L1272.88,106.90 L1273.85,105.69 L1274.83,103.71 L1275.81,101.36 L1276.78,99.03 L1277.76,97.12 L1278.73,95.79 L1279.71,94.61 L1280.69,93.56 L1281.66,92.62 L1282.64,91.82 L1283.61,91.12 L1284.59,90.51 L1285.56,89.95 L1286.54,89.45 L1287.52,88.97 L1288.49,88.52 L1289.47,88.07 L1290.44,87.62 L1291.42,87.16 L1292.40,86.72 L1293.37,86.28 L1294.35,85.85 L1295.32,85.43 L1296.30,85.03 L1297.27,84.65 L1298.25,84.29 L1299.23,83.96 L1300.20,83.65 L1301.18,83.35 L1302.15,83.07 L1303.13,82.81 L1304.11,82.55 L1305.08,82.31 L1306.06,82.08 L1307.03,81.85 L1308.01,81.64 L1308.98,81.43 L1309.96,81.22 L1310.94,81.03 L1311.91,80.84 L1312.89,80.66 L1313.86,80.48 L1314.84,80.32 L1315.82,80.16 L1316.79,80.01 L1317.77,79.86 L1318.74,79.71 L1319.72,79.55 L1320.69,79.40 L1321.67,79.25 L1322.65,79.09 L1323.62,78.94 L1324.60,78.78 L1325.57,78.63 L1326.55,78.48 L1327.53,78.34 L1328.50,78.19 L1329.48,78.05 L1330.45,77.91 L1331.43,77.77 L1332.40,77.63 L1333.38,77.49 L1334.36,77.36 L1335.33,77.23 L1336.31,77.10 L1337.28,76.97 L1338.26,76.84 L1339.24,76.72 L1340.21,76.59 L1341.19,76.47 L1342.16,76.35 L1343.14,76.23 L1344.11,76.12 L1345.09,76.00 L1346.07,75.89 L1347.04,75.77 L1348.02,75.66 L1348.99,75.55 L1349.97,75.44 L1350.95,75.34 L1351.92,75.23 L1352.90,75.12 L1353.87,75.02 L1354.85,74.92 L1355.82,74.82 L1356.80,74.72 L1357.78,74.62 L1358.75,74.53 L1359.73,74.43 L1360.70,74.34 L1361.68,74.24 L1362.66,74.15 L1363.63,74.06 L1364.61,73.97 L1365.58,73.88 L1366.56,73.80 L1367.53,73.71 L1368.51,73.63 L1369.49,73.54 L1370.46,73.46 L1371.44,73.38 L1372.41,73.30 L1373.39,73.22 L1374.37,73.14 L1375.34,73.06 L1376.32,72.99 L1377.29,72.91 L1378.27,72.84 L1379.24,72.77 L1380.22,72.69 L1381.20,72.62 L1382.17,72.55 L1383.15,72.48 L1384.12,72.41 L1385.10,72.34 L1386.08,72.28 L1387.05,72.21 L1388.03,72.14 L1389.00,72.08 L1389.98,72.01 L1390.95,71.95 L1391.93,71.88 L1392.91,71.82 L1393.88,71.76 L1394.86,71.69 L1395.83,71.63 L1396.81,71.57 L1397.79,71.51 L1398.76,71.45 L1399.74,71.39 L1400.71,71.33 L1401.69,71.27 L1402.67,71.21 L1403.64,71.15 L1404.62,71.09 L1405.59,71.03 L1406.57,70.97 L1407.54,70.91 L1408.52,70.85 L1409.50,70.80 L1410.47,70.74 L1411.45,70.68 L1412.42,70.63 L1413.40,70.57 L1414.38,70.51 L1415.35,70.46 L1416.33,70.41 L1417.30,70.35 L1418.28,70.30 L1419.25,70.24 L1420.23,70.19 L1421.21,70.14 L1422.18,70.09 L1423.16,70.04 L1424.13,69.99 L1425.11,69.94 L1426.09,69.89 L1427.06,69.84 L1428.04,69.79 L1429.01,69.74 L1429.99,69.69 L1430.96,69.65 L1431.94,69.60 L1432.92,69.55 L1433.89,69.51 L1434.87,69.46 L1435.84,69.42 L1436.82,69.37 L1437.80,69.33 L1438.77,69.29 L1439.75,69.24 L1440.72,69.20 L1441.70,69.16 L1442.67,69.12 L1443.65,69.08 L1444.63,69.04 L1445.60,69.00 L1446.58,68.96 L1447.55,68.92 L1448.53,68.88 L1449.51,68.84 L1450.48,68.80 L1451.46,68.76 L1452.43,68.72 L1453.41,68.69 L1454.38,68.65 L1455.36,68.61 L1456.34,68.57 L1457.31,68.54" stroke="#ff0000" stroke-width="4.2"/>
<path d="M775.20,530.60 L776.18,530.38 L777.15,530.16 L778.13,529.93 L779.10,529.70 L780.08,529.47 L781.06,529.23 L782.03,528.99 L783.01,528.74 L783.98,528.48 L784.96,528.21 L785.93,527.93 L786.91,527.64 L787.89,527.34 L788.86,527.03 L789.84,526.70 L790.81,526.37 L791.79,526.03 L792.77,525.67 L793.74,525.30 L794.72,524.93 L795.69,524.54 L796.67,524.13 L797.64,523.72 L798.62,523.30 L799.60,522.86 L800.57,522.42 L801.55,521.96 L802.52,521.50 L803.50,521.02 L804.48,520.54 L805.45,520.05 L806.43,519.54 L807.40,519.03 L808.38,518.51 L809.35,517.98 L810.33,517.44 L811.31,516.90 L812.28,516.34 L813.26,515.78 L814.23,515.21 L815.21,514.63 L816.19,514.04 L817.16,513.44 L818.14,512.83 L819.11,512.22 L820.09,511.59 L821.06,510.96 L822.04,510.31 L823.02,509.66 L823.99,509.00 L824.97,508.33 L825.94,507.65 L826.92,506.96 L827.90,506.26 L828.87,505.55 L829.85,504.84 L830.82,504.11 L831.80,503.38 L832.77,502.64 L833.75,501.90 L834.73,501.14 L835.70,500.38 L836.68,499.62 L837.65,498.85 L838.63,498.08 L839.61,497.30 L840.58,496.51 L841.56,495.71 L842.53,494.84 L843.51,493.81 L844.48,492.68 L845.46,491.63 L846.44,490.71 L847.41,489.85 L848.39,489.01 L849.36,488.16 L850.34,487.31 L851.32,486.46 L852.29,485.61 L853.27,484.76 L854.24,483.91 L855.22,483.05 L856.19,482.19 L857.17,481.33 L858.15,480.47 L859.12,479.61 L860.10,478.75 L861.07,477.89 L862.05,477.02 L863.03,476.15 L864.00,475.29 L864.98,474.42 L865.95,473.55 L866.93,472.68 L867.90,471.81 L868.88,470.93 L869.86,470.05 L870.83,469.17 L871.81,468.26 L872.78,467.33 L873.76,466.40 L874.74,465.47 L875.71,464.54 L876.69,463.61 L877.66,462.68 L878.64,461.74 L879.61,460.81 L880.59,459.87 L881.57,458.94 L882.54,458.00 L883.52,457.07 L884.49,456.13 L885.47,455.20 L886.45,454.26 L887.42,453.33 L888.40,452.39 L889.37,451.45 L890.35,450.52 L891.32,449.58 L892.30,448.64 L893.28,447.70 L894.25,446.77 L895.23,445.83 L896.20,444.89 L897.18,443.95 L898.16,443.01 L899.13,442.07 L900.11,441.14 L901.08,440.23 L902.06,439.35 L903.04,438.49 L904.01,437.63 L904.99,436.77 L905.96,435.92 L906.94,435.06 L907.91,434.20 L908.89,433.33 L909.87,432.47 L910.84,431.61 L911.82,430.74 L912.79,429.88 L913.77,429.01 L914.75,428.15 L915.72,427.28 L916.70,426.41 L917.67,425.54 L918.65,424.68 L919.62,423.81 L920.60,422.94 L921.58,422.07 L922.55,421.20 L923.53,420.33 L924.50,419.46 L925.48,418.60 L926.46,417.73 L927.43,416.86 L928.41,416.00 L929.38,415.13 L930.36,414.27 L931.33,413.41 L932.31,412.55 L933.29,411.69 L934.26,410.84 L935.24,409.98 L936.21,409.13 L937.19,408.28 L938.17,407.44 L939.14,406.59 L940.12,405.75 L941.09,404.91 L942.07,404.07 L943.04,403.24 L944.02,402.41 L945.00,401.58 L945.97,400.76 L946.95,399.94 L947.92,399.12 L948.90,398.30 L949.88,397.49 L950.85,396.68 L951.83,395.88 L952.80,395.08 L953.78,394.28 L954.75,393.49 L955.73,392.71 L956.71,391.92 L957.68,391.14 L958.66,390.37 L959.63,389.59 L960.61,388.82 L961.59,388.05 L962.56,387.28 L963.54,386.51 L964.51,385.74 L965.49,384.98 L966.46,384.22 L967.44,383.46 L968.42,382.70 L969.39,381.94 L970.37,381.19 L971.34,380.43 L972.32,379.68 L973.30,378.93 L974.27,378.18 L975.25,377.44 L976.22,376.69 L977.20,375.95 L978.17,375.20 L979.15,374.46 L980.13,373.72 L981.10,372.98 L982.08,372.24 L983.05,371.51 L984.03,370.77 L985.01,370.04 L985.98,369.31 L986.96,368.58 L987.93,367.85 L988.91,367.12 L989.88,366.40 L990.86,365.67 L991.84,364.94 L992.81,364.22 L993.79,363.50 L994.76,362.77 L995.74,362.05 L996.72,361.33 L997.69,360.62 L998.67,359.89 L999.64,359.04 L1000.62,357.83 L1001.59,356.17 L1002.57,354.58 L1003.55,353.48 L1004.52,352.70 L1005.50,352.02 L1006.47,351.34 L1007.45,350.67 L1008.43,349.99 L1009.40,349.32 L1010.38,348.65 L1011.35,347.98 L1012.33,347.31 L1013.30,346.64 L1014.28,345.98 L1015.26,345.31 L1016.23,344.65 L1017.21,343.99 L1018.18,343.33 L1019.16,342.67 L1020.14,342.01 L1021.11,341.35 L1022.09,340.70 L1023.06,340.04 L1024.04,339.39 L1025.02,338.74 L1025.99,338.09 L1026.97,337.44 L1027.94,336.79 L1028.92,336.14 L1029.89,335.50 L1030.87,334.85 L1031.85,334.21 L1032.82,333.57 L1033.80,332.93 L1034.77,332.29 L1035.75,331.65 L1036.73,331.01 L1037.70,330.37 L1038.68,329.74 L1039.65,329.10 L1040.63,328.47 L1041.60,327.82 L1042.58,327.16 L1043.56,326.49 L1044.53,325.80 L1045.51,325.12 L1046.48,324.44 L1047.46,323.76 L1048.44,323.08 L1049.41,322.40 L1050.39,321.73 L1051.36,321.05 L1052.34,320.38 L1053.31,319.71 L1054.29,319.04 L1055.27,318.37 L1056.24,317.70 L1057.22,317.03 L1058.19,316.36 L1059.17,315.70 L1060.15,315.04 L1061.12,314.37 L1062.10,313.71 L1063.07,313.05 L1064.05,312.39 L1065.02,311.74 L1066.00,311.08 L1066.98,310.43 L1067.95,309.77 L1068.93,309.12 L1069.90,308.47 L1070.88,307.82 L1071.86,307.17 L1072.83,306.53 L1073.81,305.88 L1074.78,305.24 L1075.76,304.59 L1076.73,303.95 L1077.71,303.31 L1078.69,302.68 L1079.66,302.04 L1080.64,301.40 L1081.61,300.77 L1082.59,300.14 L1083.57,299.51 L1084.54,298.88 L1085.52,298.25 L1086.49,297.62 L1087.47,297.00 L1088.44,296.37 L1089.42,295.75 L1090.40,295.13 L1091.37,294.51 L1092.35,293.89 L1093.32,293.28 L1094.30,292.66 L1095.28,292.05 L1096.25,291.44 L1097.23,290.83 L1098.20,290.22 L1099.18,289.62 L1100.15,289.04 L1101.13,288.47 L1102.11,287.90 L1103.08,287.33 L1104.06,286.77 L1105.03,286.20 L1106.01,285.64 L1106.99,285.08 L1107.96,284.52 L1108.94,283.96 L1109.91,283.41 L1110.89,282.86 L1111.86,282.31 L1112.84,281.77 L1113.82,281.22 L1114.79,280.68 L1115.77,280.14 L1116.74,279.60 L1117.72,279.06 L1118.70,278.52 L1119.67,277.99 L1120.65,277.45 L1121.62,276.92 L1122.60,276.39 L1123.57,275.86 L1124.55,275.31 L1125.53,274.73 L1126.50,274.12 L1127.48,273.49 L1128.45,272.86 L1129.43,272.23 L1130.41,271.60 L1131.38,270.98 L1132.36,270.36 L1133.33,269.74 L1134.31,269.12 L1135.28,268.51 L1136.26,267.89 L1137.24,267.29 L1138.21,266.68 L1139.19,266.08 L1140.16,265.48 L1141.14,264.88 L1142.12,264.28 L1143.09,263.69 L1144.07,263.10 L1145.04,262.52 L1146.02,261.93 L1146.99,261.35 L1147.97,260.78 L1148.95,260.20 L1149.92,259.63 L1150.90,259.06 L1151.87,258.50 L1152.85,257.94 L1153.83,257.38 L1154.80,256.83 L1155.78,256.28 L1156.75,255.73 L1157.73,255.18 L1158.71,254.64 L1159.68,254.10 L1160.66,253.57 L1161.63,253.04 L1162.61,252.51 L1163.58,251.98 L1164.56,251.46 L1165.54,250.94 L1166.51,250.42 L1167.49,249.91 L1168.46,249.40 L1169.44,248.90 L1170.42,248.39 L1171.39,247.89 L1172.37,247.40 L1173.34,246.90 L1174.32,246.42 L1175.29,245.93 L1176.27,245.45 L1177.25,244.98 L1178.22,244.51 L1179.20,244.04 L1180.17,243.57 L1181.15,243.11 L1182.13,242.65 L1183.10,242.20 L1184.08,241.74 L1185.05,241.29 L1186.03,240.84 L1187.00,240.39 L1187.98,239.95 L1188.96,239.51 L1189.93,239.07 L1190.91,238.63 L1191.88,238.19 L1192.86,237.76 L1193.84,237.33 L1194.81,236.90 L1195.79,236.47 L1196.76,236.04 L1197.74,235.62 L1198.71,235.20 L1199.69,234.79 L1200.67,234.41 L1201.64,234.06 L1202.62,233.72 L1203.59,233.38 L1204.57,233.04 L1205.55,232.70 L1206.52,232.36 L1207.50,232.02 L1208.47,231.68 L1209.45,231.34 L1210.42,230.99 L1211.40,230.64 L1212.38,230.30 L1213.35,229.95 L1214.33,229.59 L1215.30,229.24 L1216.28,228.88 L1217.26,228.53 L1218.23,228.17 L1219.21,227.80 L1220.18,227.44 L1221.16,227.08 L1222.13,226.71 L1223.11,226.34 L1224.09,225.98 L1225.06,225.65 L1226.04,225.35 L1227.01,225.08 L1227.99,224.81 L1228.97,224.54 L1229.94,224.28 L1230.92,224.01 L1231.89,223.74 L1232.87,223.47 L1233.84,223.21 L1234.82,222.94 L1235.80,222.67 L1236.77,222.40 L1237.75,222.13 L1238.72,221.87 L1239.70,221.60 L1240.68,221.33 L1241.65,221.06 L1242.63,220.79 L1243.60,220.52 L1244.58,220.26 L1245.55,219.99 L1246.53,219.73 L1247.51,219.46 L1248.48,219.20 L1249.46,218.94 L1250.43,218.68 L1251.41,218.43 L1252.39,218.17 L1253.36,217.92 L1254.34,217.67 L1255.31,217.42 L1256.29,217.18 L1257.26,216.94 L1258.24,216.70 L1259.22,216.46 L1260.19,216.22 L1261.17,215.99 L1262.14,215.76 L1263.12,215.53 L1264.10,215.30 L1265.07,215.08 L1266.05,214.86 L1267.02,214.63 L1268.00,214.41 L1268.97,214.20 L1269.95,213.98 L1270.93,213.76 L1271.90,213.54 L1272.88,213.33 L1273.85,213.11 L1274.83,212.91 L1275.81,212.73 L1276.78,212.57 L1277.76,212.41 L1278.73,212.25 L1279.71,212.09 L1280.69,211.92 L1281.66,211.76 L1282.64,211.59 L1283.61,211.42 L1284.59,211.24 L1285.56,211.07 L1286.54,210.89 L1287.52,210.71 L1288.49,210.53 L1289.47,210.34 L1290.44,210.16 L1291.42,209.97 L1292.40,209.78 L1293.37,209.60 L1294.35,209.41 L1295.32,209.22 L1296.30,209.04 L1297.27,208.85 L1298.25,208.67 L1299.23,208.49 L1300.20,208.30 L1301.18,208.11 L1302.15,207.91 L1303.13,207.72 L1304.11,207.53 L1305.08,207.35 L1306.06,207.17 L1307.03,206.99 L1308.01,206.82 L1308.98,206.66 L1309.96,206.50 L1310.94,206.34 L1311.91,206.19 L1312.89,206.05 L1313.86,205.91 L1314.84,205.78 L1315.82,205.65 L1316.79,205.53 L1317.77,205.41 L1318.74,205.30 L1319.72,205.19 L1320.69,205.09 L1321.67,204.99 L1322.65,204.90 L1323.62,204.81 L1324.60,204.71 L1325.57,204.59 L1326.55,204.46 L1327.53,204.32 L1328.50,204.18 L1329.48,204.05 L1330.45,203.92 L1331.43,203.79 L1332.40,203.67 L1333.38,203.55 L1334.36,203.43 L1335.33,203.31 L1336.31,203.20 L1337.28,203.09 L1338.26,202.98 L1339.24,202.87 L1340.21,202.76 L1341.19,202.66 L1342.16,202.55 L1343.14,202.45 L1344.11,202.35 L1345.09,202.25 L1346.07,202.15 L1347.04,202.05 L1348.02,201.96 L1348.99,201.86 L1349.97,201.76 L1350.95,201.65 L1351.92,201.53 L1352.90,201.42 L1353.87,201.30 L1354.85,201.18 L1355.82,201.07 L1356.80,200.96 L1357.78,200.84 L1358.75,200.73 L1359.73,200.62 L1360.70,200.51 L1361.68,200.40 L1362.66,200.30 L1363.63,200.19 L1364.61,200.08 L1365.58,199.98 L1366.56,199.88 L1367.53,199.77 L1368.51,199.67 L1369.49,199.57 L1370.46,199.47 L1371.44,199.38 L1372.41,199.28 L1373.39,199.19 L1374.37,199.09 L1375.34,199.00 L1376.32,198.91 L1377.29,198.82 L1378.27,198.73 L1379.24,198.64 L1380.22,198.55 L1381.20,198.45 L1382.17,198.35 L1383.15,198.25 L1384.12,198.16 L1385.10,198.06 L1386.08,197.97 L1387.05,197.87 L1388.03,197.78 L1389.00,197.69 L1389.98,197.60 L1390.95,197.51 L1391.93,197.43 L1392.91,197.35 L1393.88,197.26 L1394.86,197.18 L1395.83,197.10 L1396.81,197.03 L1397.79,196.95 L1398.76,196.88 L1399.74,196.80 L1400.71,196.72 L1401.69,196.64 L1402.67,196.55 L1403.64,196.47 L1404.62,196.39 L1405.59,196.31 L1406.57,196.23 L1407.54,196.16 L1408.52,196.08 L1409.50,196.01 L1410.47,195.94 L1411.45,195.87 L1412.42,195.80 L1413.40,195.73 L1414.38,195.66 L1415.35,195.59 L1416.33,195.53 L1417.30,195.46 L1418.28,195.40 L1419.25,195.34 L1420.23,195.27 L1421.21,195.21 L1422.18,195.15 L1423.16,195.08 L1424.13,195.02 L1425.11,194.96 L1426.09,194.90 L1427.06,194.84 L1428.04,194.78 L1429.01,194.72 L1429.99,194.66 L1430.96,194.61 L1431.94,194.55 L1432.92,194.50 L1433.89,194.44 L1434.87,194.39 L1435.84,194.34 L1436.82,194.29 L1437.80,194.24 L1438.77,194.19 L1439.75,194.13 L1440.72,194.08 L1441.70,194.03 L1442.67,193.98 L1443.65,193.92 L1444.63,193.87 L1445.60,193.82 L1446.58,193.77 L1447.55,193.72 L1448.53,193.67 L1449.51,193.62 L1450.48,193.57 L1451.46,193.52 L1452.43,193.47 L1453.41,193.43 L1454.38,193.38 L1455.36,193.33 L1456.34,193.29 L1457.31,193.24" stroke="#0000ff" stroke-width="4.2"/>
<path d="M775.20,530.80 L776.18,530.58 L777.15,530.36 L778.13,530.14 L779.10,529.91 L780.08,529.68 L781.06,529.44 L782.03,529.20 L783.01,528.95 L783.98,528.69 L784.96,528.42 L785.93,528.14 L786.91,527.85 L787.89,527.56 L788.86,527.25 L789.84,526.93 L790.81,526.59 L791.79,526.25 L792.77,525.90 L793.74,525.53 L794.72,525.15 L795.69,524.77 L796.67,524.37 L797.64,523.95 L798.62,523.53 L799.60,523.10 L800.57,522.66 L801.55,522.20 L802.52,521.74 L803.50,521.27 L804.48,520.78 L805.45,520.29 L806.43,519.79 L807.40,519.28 L808.38,518.76 L809.35,518.23 L810.33,517.69 L811.31,517.15 L812.28,516.60 L813.26,516.03 L814.23,515.46 L815.21,514.88 L816.19,514.30 L817.16,513.70 L818.14,513.10 L819.11,512.48 L820.09,511.86 L821.06,511.23 L822.04,510.58 L823.02,509.93 L823.99,509.27 L824.97,508.60 L825.94,507.92 L826.92,507.24 L827.90,506.54 L828.87,505.83 L829.85,505.12 L830.82,504.40 L831.80,503.67 L832.77,502.93 L833.75,502.18 L834.73,501.43 L835.70,500.67 L836.68,499.91 L837.65,499.14 L838.63,498.37 L839.61,497.59 L840.58,496.81 L841.56,496.02 L842.53,495.24 L843.51,494.44 L844.48,493.65 L845.46,492.85 L846.44,492.05 L847.41,491.25 L848.39,490.45 L849.36,489.65 L850.34,488.84 L851.32,488.03 L852.29,487.22 L853.27,486.41 L854.24,485.60 L855.22,484.78 L856.19,483.97 L857.17,483.15 L858.15,482.33 L859.12,481.51 L860.10,480.69 L861.07,479.87 L862.05,479.04 L863.03,478.22 L864.00,477.39 L864.98,476.56 L865.95,475.73 L866.93,474.91 L867.90,474.07 L868.88,473.24 L869.86,472.41 L870.83,471.58 L871.81,470.74 L872.78,469.91 L873.76,469.07 L874.74,468.23 L875.71,467.40 L876.69,466.56 L877.66,465.72 L878.64,464.88 L879.61,464.04 L880.59,463.20 L881.57,462.36 L882.54,461.52 L883.52,460.68 L884.49,459.84 L885.47,459.00 L886.45,458.15 L887.42,457.31 L888.40,456.47 L889.37,455.63 L890.35,454.79 L891.32,453.94 L892.30,453.10 L893.28,452.26 L894.25,451.41 L895.23,450.57 L896.20,449.73 L897.18,448.88 L898.16,448.04 L899.13,447.19 L900.11,446.35 L901.08,445.50 L902.06,444.65 L903.04,443.80 L904.01,442.95 L904.99,442.10 L905.96,441.25 L906.94,440.40 L907.91,439.55 L908.89,438.70 L909.87,437.84 L910.84,436.98 L911.82,436.13 L912.79,435.27 L913.77,434.41 L914.75,433.55 L915.72,432.69 L916.70,431.83 L917.67,430.97 L918.65,430.11 L919.62,429.25 L920.60,428.39 L921.58,427.53 L922.55,426.67 L923.53,425.81 L924.50,424.94 L925.48,424.08 L926.46,423.23 L927.43,422.37 L928.41,421.51 L929.38,420.65 L930.36,419.80 L931.33,418.94 L932.31,418.09 L933.29,417.24 L934.26,416.39 L935.24,415.55 L936.21,414.70 L937.19,413.86 L938.17,413.02 L939.14,412.19 L940.12,411.35 L941.09,410.52 L942.07,409.69 L943.04,408.86 L944.02,408.04 L945.00,407.22 L945.97,406.40 L946.95,405.59 L947.92,404.78 L948.90,403.97 L949.88,403.17 L950.85,402.37 L951.83,401.57 L952.80,400.77 L953.78,399.98 L954.75,399.19 L955.73,398.40 L956.71,397.61 L957.68,396.83 L958.66,396.05 L959.63,395.27 L960.61,394.50 L961.59,393.72 L962.56,392.95 L963.54,392.18 L964.51,391.41 L965.49,390.65 L966.46,389.88 L967.44,389.12 L968.42,388.36 L969.39,387.60 L970.37,386.84 L971.34,386.09 L972.32,385.33 L973.30,384.58 L974.27,383.83 L975.25,383.08 L976.22,382.33 L977.20,381.58 L978.17,380.83 L979.15,380.09 L980.13,379.35 L981.10,378.61 L982.08,377.87 L983.05,377.13 L984.03,376.39 L985.01,375.65 L985.98,374.92 L986.96,374.19 L987.93,373.46 L988.91,372.73 L989.88,372.00 L990.86,371.27 L991.84,370.54 L992.81,369.82 L993.79,369.10 L994.76,368.37 L995.74,367.65 L996.72,366.93 L997.69,366.22 L998.67,365.50 L999.64,364.78 L1000.62,364.07 L1001.59,363.36 L1002.57,362.65 L1003.55,361.94 L1004.52,361.23 L1005.50,360.52 L1006.47,359.82 L1007.45,359.11 L1008.43,358.41 L1009.40,357.71 L1010.38,357.01 L1011.35,356.31 L1012.33,355.61 L1013.30,354.91 L1014.28,354.22 L1015.26,353.52 L1016.23,352.83 L1017.21,352.14 L1018.18,351.45 L1019.16,350.76 L1020.14,350.07 L1021.11,349.39 L1022.09,348.70 L1023.06,348.02 L1024.04,347.33 L1025.02,346.65 L1025.99,345.97 L1026.97,345.29 L1027.94,344.61 L1028.92,343.94 L1029.89,343.26 L1030.87,342.59 L1031.85,341.91 L1032.82,341.24 L1033.80,340.57 L1034.77,339.90 L1035.75,339.23 L1036.73,338.57 L1037.70,337.90 L1038.68,337.24 L1039.65,336.57 L1040.63,335.91 L1041.60,335.25 L1042.58,334.59 L1043.56,333.93 L1044.53,333.27 L1045.51,332.62 L1046.48,331.96 L1047.46,331.31 L1048.44,330.65 L1049.41,330.00 L1050.39,329.35 L1051.36,328.70 L1052.34,328.05 L1053.31,327.41 L1054.29,326.76 L1055.27,326.12 L1056.24,325.47 L1057.22,324.83 L1058.19,324.19 L1059.17,323.55 L1060.15,322.91 L1061.12,322.28 L1062.10,321.64 L1063.07,321.01 L1064.05,320.37 L1065.02,319.74 L1066.00,319.11 L1066.98,318.48 L1067.95,317.85 L1068.93,317.23 L1069.90,316.60 L1070.88,315.98 L1071.86,315.36 L1072.83,314.74 L1073.81,314.12 L1074.78,313.50 L1075.76,312.88 L1076.73,312.27 L1077.71,311.65 L1078.69,311.04 L1079.66,310.43 L1080.64,309.82 L1081.61,309.21 L1082.59,308.60 L1083.57,308.00 L1084.54,307.39 L1085.52,306.79 L1086.49,306.19 L1087.47,305.59 L1088.44,304.99 L1089.42,304.39 L1090.40,303.80 L1091.37,303.21 L1092.35,302.61 L1093.32,302.02 L1094.30,301.43 L1095.28,300.84 L1096.25,300.26 L1097.23,299.67 L1098.20,299.09 L1099.18,298.51 L1100.15,297.93 L1101.13,297.35 L1102.11,296.77 L1103.08,296.20 L1104.06,295.62 L1105.03,295.05 L1106.01,294.48 L1106.99,293.91 L1107.96,293.34 L1108.94,292.77 L1109.91,292.21 L1110.89,291.64 L1111.86,291.08 L1112.84,290.52 L1113.82,289.96 L1114.79,289.40 L1115.77,288.85 L1116.74,288.29 L1117.72,287.74 L1118.70,287.19 L1119.67,286.64 L1120.65,286.09 L1121.62,285.55 L1122.60,285.00 L1123.57,284.46 L1124.55,283.92 L1125.53,283.38 L1126.50,282.84 L1127.48,282.31 L1128.45,281.77 L1129.43,281.24 L1130.41,280.71 L1131.38,280.19 L1132.36,279.67 L1133.33,279.14 L1134.31,278.63 L1135.28,278.11 L1136.26,277.60 L1137.24,277.08 L1138.21,276.58 L1139.19,276.07 L1140.16,275.57 L1141.14,275.07 L1142.12,274.57 L1143.09,274.08 L1144.07,273.59 L1145.04,273.10 L1146.02,272.61 L1146.99,272.13 L1147.97,271.65 L1148.95,271.17 L1149.92,270.70 L1150.90,270.23 L1151.87,269.77 L1152.85,269.30 L1153.83,268.84 L1154.80,268.38 L1155.78,267.93 L1156.75,267.48 L1157.73,267.03 L1158.71,266.59 L1159.68,266.14 L1160.66,265.71 L1161.63,265.27 L1162.61,264.84 L1163.58,264.41 L1164.56,263.98 L1165.54,263.56 L1166.51,263.14 L1167.49,262.73 L1168.46,262.31 L1169.44,261.91 L1170.42,261.50 L1171.39,261.10 L1172.37,260.70 L1173.34,260.30 L1174.32,259.91 L1175.29,259.52 L1176.27,259.13 L1177.25,258.75 L1178.22,258.37 L1179.20,257.99 L1180.17,257.62 L1181.15,257.24 L1182.13,256.88 L1183.10,256.51 L1184.08,256.15 L1185.05,255.79 L1186.03,255.43 L1187.00,255.07 L1187.98,254.72 L1188.96,254.37 L1189.93,254.02 L1190.91,253.67 L1191.88,253.32 L1192.86,252.98 L1193.84,252.64 L1194.81,252.30 L1195.79,251.96 L1196.76,251.63 L1197.74,251.29 L1198.71,250.96 L1199.69,250.62 L1200.67,250.29 L1201.64,249.96 L1202.62,249.63 L1203.59,249.30 L1204.57,248.97 L1205.55,248.64 L1206.52,248.31 L1207.50,247.97 L1208.47,247.64 L1209.45,247.31 L1210.42,246.97 L1211.40,246.63 L1212.38,246.29 L1213.35,245.95 L1214.33,245.61 L1215.30,245.26 L1216.28,244.92 L1217.26,244.57 L1218.23,244.22 L1219.21,243.86 L1220.18,243.51 L1221.16,243.15 L1222.13,242.79 L1223.11,242.43 L1224.09,242.07 L1225.06,241.71 L1226.04,241.35 L1227.01,240.99 L1227.99,240.62 L1228.97,240.26 L1229.94,239.90 L1230.92,239.53 L1231.89,239.17 L1232.87,238.80 L1233.84,238.44 L1234.82,238.07 L1235.80,237.71 L1236.77,237.34 L1237.75,236.98 L1238.72,236.61 L1239.70,236.24 L1240.68,235.88 L1241.65,235.51 L1242.63,235.15 L1243.60,234.78 L1244.58,234.42 L1245.55,234.06 L1246.53,233.70 L1247.51,233.34 L1248.48,232.98 L1249.46,232.62 L1250.43,232.26 L1251.41,231.91 L1252.39,231.56 L1253.36,231.21 L1254.34,230.86 L1255.31,230.52 L1256.29,230.17 L1257.26,229.83 L1258.24,229.50 L1259.22,229.16 L1260.19,228.83 L1261.17,228.50 L1262.14,228.17 L1263.12,227.85 L1264.10,227.52 L1265.07,227.20 L1266.05,226.88 L1267.02,226.56 L1268.00,226.24 L1268.97,225.93 L1269.95,225.61 L1270.93,225.30 L1271.90,224.98 L1272.88,224.67 L1273.85,224.36 L1274.83,224.04 L1275.81,223.73 L1276.78,223.41 L1277.76,223.09 L1278.73,222.77 L1279.71,222.45 L1280.69,222.13 L1281.66,221.80 L1282.64,221.47 L1283.61,221.14 L1284.59,220.81 L1285.56,220.47 L1286.54,220.13 L1287.52,219.80 L1288.49,219.45 L1289.47,219.11 L1290.44,218.77 L1291.42,218.42 L1292.40,218.07 L1293.37,217.73 L1294.35,217.38 L1295.32,217.04 L1296.30,216.69 L1297.27,216.35 L1298.25,216.01 L1299.23,215.67 L1300.20,215.33 L1301.18,215.00 L1302.15,214.67 L1303.13,214.34 L1304.11,214.02 L1305.08,213.71 L1306.06,213.39 L1307.03,213.09 L1308.01,212.78 L1308.98,212.48 L1309.96,212.19 L1310.94,211.91 L1311.91,211.62 L1312.89,211.35 L1313.86,211.08 L1314.84,210.81 L1315.82,210.55 L1316.79,210.30 L1317.77,210.05 L1318.74,209.80 L1319.72,209.56 L1320.69,209.33 L1321.67,209.10 L1322.65,208.87 L1323.62,208.65 L1324.60,208.43 L1325.57,208.22 L1326.55,208.01 L1327.53,207.80 L1328.50,207.60 L1329.48,207.40 L1330.45,207.21 L1331.43,207.01 L1332.40,206.82 L1333.38,206.64 L1334.36,206.45 L1335.33,206.27 L1336.31,206.09 L1337.28,205.91 L1338.26,205.73 L1339.24,205.56 L1340.21,205.39 L1341.19,205.22 L1342.16,205.05 L1343.14,204.88 L1344.11,204.71 L1345.09,204.55 L1346.07,204.38 L1347.04,204.22 L1348.02,204.06 L1348.99,203.90 L1349.97,203.74 L1350.95,203.58 L1351.92,203.43 L1352.90,203.27 L1353.87,203.12 L1354.85,202.96 L1355.82,202.81 L1356.80,202.66 L1357.78,202.51 L1358.75,202.36 L1359.73,202.21 L1360.70,202.06 L1361.68,201.92 L1362.66,201.77 L1363.63,201.62 L1364.61,201.48 L1365.58,201.34 L1366.56,201.20 L1367.53,201.06 L1368.51,200.92 L1369.49,200.78 L1370.46,200.64 L1371.44,200.51 L1372.41,200.37 L1373.39,200.24 L1374.37,200.11 L1375.34,199.98 L1376.32,199.85 L1377.29,199.72 L1378.27,199.60 L1379.24,199.47 L1380.22,199.35 L1381.20,199.23 L1382.17,199.11 L1383.15,198.99 L1384.12,198.87 L1385.10,198.75 L1386.08,198.64 L1387.05,198.53 L1388.03,198.41 L1389.00,198.30 L1389.98,198.20 L1390.95,198.09 L1391.93,197.98 L1392.91,197.88 L1393.88,197.78 L1394.86,197.68 L1395.83,197.58 L1396.81,197.48 L1397.79,197.39 L1398.76,197.29 L1399.74,197.20 L1400.71,197.11 L1401.69,197.02 L1402.67,196.93 L1403.64,196.85 L1404.62,196.76 L1405.59,196.68 L1406.57,196.60 L1407.54,196.51 L1408.52,196.44 L1409.50,196.36 L1410.47,196.28 L1411.45,196.20 L1412.42,196.13 L1413.40,196.06 L1414.38,195.99 L1415.35,195.91 L1416.33,195.84 L1417.30,195.78 L1418.28,195.71 L1419.25,195.64 L1420.23,195.57 L1421.21,195.51 L1422.18,195.45 L1423.16,195.38 L1424.13,195.32 L1425.11,195.26 L1426.09,195.20 L1427.06,195.14 L1428.04,195.08 L1429.01,195.02 L1429.99,194.96 L1430.96,194.91 L1431.94,194.85 L1432.92,194.80 L1433.89,194.74 L1434.87,194.69 L1435.84,194.64 L1436.82,194.59 L1437.80,194.54 L1438.77,194.49 L1439.75,194.44 L1440.72,194.39 L1441.70,194.34 L1442.67,194.29 L1443.65,194.25 L1444.63,194.20 L1445.60,194.16 L1446.58,194.11 L1447.55,194.07 L1448.53,194.02 L1449.51,193.98 L1450.48,193.94 L1451.46,193.90 L1452.43,193.86 L1453.41,193.81 L1454.38,193.77 L1455.36,193.73 L1456.34,193.69 L1457.31,193.65" stroke="#ff0000" stroke-width="4.2"/>
<path d="M775.20,605.30 L776.18,605.05 L777.15,604.79 L778.13,604.54 L779.10,604.27 L780.08,604.00 L781.06,603.73 L782.03,603.44 L783.01,603.15 L783.98,602.84 L784.96,602.53 L785.93,602.20 L786.91,601.85 L787.89,601.50 L788.86,601.13 L789.84,600.74 L790.81,600.34 L791.79,599.93 L792.77,599.50 L793.74,599.05 L794.72,598.60 L795.69,598.12 L796.67,597.64 L797.64,597.14 L798.62,596.62 L799.60,596.09 L800.57,595.54 L801.55,594.98 L802.52,594.40 L803.50,593.80 L804.48,593.20 L805.45,592.58 L806.43,591.96 L807.40,591.33 L808.38,590.68 L809.35,590.03 L810.33,589.37 L811.31,588.70 L812.28,588.03 L813.26,587.34 L814.23,586.65 L815.21,585.95 L816.19,585.25 L817.16,584.54 L818.14,583.82 L819.11,583.10 L820.09,582.37 L821.06,581.64 L822.04,580.90 L823.02,580.15 L823.99,579.40 L824.97,578.64 L825.94,577.88 L826.92,577.11 L827.90,576.34 L828.87,575.56 L829.85,574.78 L830.82,573.99 L831.80,573.19 L832.77,572.40 L833.75,571.60 L834.73,570.79 L835.70,569.98 L836.68,569.16 L837.65,568.35 L838.63,567.52 L839.61,566.70 L840.58,565.87 L841.56,565.04 L842.53,564.20 L843.51,563.36 L844.48,562.52 L845.46,561.67 L846.44,560.83 L847.41,559.98 L848.39,559.12 L849.36,558.27 L850.34,557.41 L851.32,556.55 L852.29,555.69 L853.27,554.83 L854.24,553.96 L855.22,553.10 L856.19,552.23 L857.17,551.36 L858.15,550.49 L859.12,549.62 L860.10,548.75 L861.07,547.87 L862.05,547.00 L863.03,546.12 L864.00,545.24 L864.98,544.36 L865.95,543.49 L866.93,542.61 L867.90,541.72 L868.88,540.84 L869.86,539.96 L870.83,539.08 L871.81,538.20 L872.78,537.33 L873.76,536.46 L874.74,535.60 L875.71,534.73 L876.69,533.86 L877.66,533.00 L878.64,532.13 L879.61,531.26 L880.59,530.39 L881.57,529.53 L882.54,528.66 L883.52,527.79 L884.49,526.92 L885.47,526.05 L886.45,525.19 L887.42,524.32 L888.40,523.45 L889.37,522.59 L890.35,521.73 L891.32,520.87 L892.30,520.01 L893.28,519.15 L894.25,518.29 L895.23,517.44 L896.20,516.58 L897.18,515.73 L898.16,514.88 L899.13,514.03 L900.11,513.18 L901.08,512.32 L902.06,511.46 L903.04,510.60 L904.01,509.74 L904.99,508.88 L905.96,508.02 L906.94,507.16 L907.91,506.30 L908.89,505.45 L909.87,504.59 L910.84,503.74 L911.82,502.89 L912.79,502.03 L913.77,501.18 L914.75,500.33 L915.72,499.48 L916.70,498.63 L917.67,497.78 L918.65,496.93 L919.62,496.08 L920.60,495.23 L921.58,494.38 L922.55,493.54 L923.53,492.69 L924.50,491.84 L925.48,491.00 L926.46,490.16 L927.43,489.31 L928.41,488.47 L929.38,487.63 L930.36,486.79 L931.33,485.95 L932.31,485.11 L933.29,484.27 L934.26,483.44 L935.24,482.60 L936.21,481.77 L937.19,480.94 L938.17,480.11 L939.14,479.28 L940.12,478.45 L941.09,477.63 L942.07,476.80 L943.04,475.98 L944.02,475.16 L945.00,474.34 L945.97,473.52 L946.95,472.71 L947.92,471.89 L948.90,471.08 L949.88,470.28 L950.85,469.47 L951.83,468.67 L952.80,467.87 L953.78,467.08 L954.75,466.28 L955.73,465.49 L956.71,464.71 L957.68,463.92 L958.66,463.14 L959.63,462.35 L960.61,461.58 L961.59,460.80 L962.56,460.03 L963.54,459.26 L964.51,458.49 L965.49,457.72 L966.46,456.96 L967.44,456.20 L968.42,455.44 L969.39,454.69 L970.37,453.94 L971.34,453.19 L972.32,452.45 L973.30,451.71 L974.27,450.97 L975.25,450.24 L976.22,449.50 L977.20,448.78 L978.17,448.05 L979.15,447.33 L980.13,446.61 L981.10,445.90 L982.08,445.19 L983.05,444.48 L984.03,443.77 L985.01,443.07 L985.98,442.38 L986.96,441.68 L987.93,441.00 L988.91,440.32 L989.88,439.65 L990.86,438.98 L991.84,438.31 L992.81,437.65 L993.79,436.99 L994.76,436.34 L995.74,435.69 L996.72,435.04 L997.69,434.39 L998.67,433.75 L999.64,433.11 L1000.62,432.48 L1001.59,431.85 L1002.57,431.22 L1003.55,430.60 L1004.52,429.97 L1005.50,429.36 L1006.47,428.74 L1007.45,428.13 L1008.43,427.52 L1009.40,426.92 L1010.38,426.31 L1011.35,425.71 L1012.33,425.12 L1013.30,424.53 L1014.28,423.94 L1015.26,423.35 L1016.23,422.77 L1017.21,422.19 L1018.18,421.61 L1019.16,421.04 L1020.14,420.47 L1021.11,419.90 L1022.09,419.34 L1023.06,418.77 L1024.04,418.22 L1025.02,417.66 L1025.99,417.11 L1026.97,416.56 L1027.94,416.01 L1028.92,415.46 L1029.89,414.92 L1030.87,414.38 L1031.85,413.84 L1032.82,413.34 L1033.80,412.98 L1034.77,412.89 L1035.75,412.95 L1036.73,412.84 L1037.70,412.46 L1038.68,411.97 L1039.65,411.46 L1040.63,410.95 L1041.60,410.44 L1042.58,409.93 L1043.56,409.43 L1044.53,408.93 L1045.51,408.42 L1046.48,407.93 L1047.46,407.43 L1048.44,406.93 L1049.41,406.44 L1050.39,405.94 L1051.36,405.45 L1052.34,404.96 L1053.31,404.47 L1054.29,403.99 L1055.27,403.50 L1056.24,403.02 L1057.22,402.54 L1058.19,402.06 L1059.17,401.58 L1060.15,401.10 L1061.12,400.63 L1062.10,400.15 L1063.07,399.68 L1064.05,399.21 L1065.02,398.74 L1066.00,398.27 L1066.98,397.80 L1067.95,397.34 L1068.93,396.88 L1069.90,396.41 L1070.88,395.95 L1071.86,395.49 L1072.83,395.04 L1073.81,394.58 L1074.78,394.12 L1075.76,393.67 L1076.73,393.22 L1077.71,392.77 L1078.69,392.32 L1079.66,391.87 L1080.64,391.42 L1081.61,390.98 L1082.59,390.53 L1083.57,390.09 L1084.54,389.65 L1085.52,389.21 L1086.49,388.77 L1087.47,388.33 L1088.44,387.89 L1089.42,387.46 L1090.40,387.02 L1091.37,386.59 L1092.35,386.16 L1093.32,385.73 L1094.30,385.30 L1095.28,384.87 L1096.25,384.44 L1097.23,384.02 L1098.20,383.59 L1099.18,383.17 L1100.15,382.75 L1101.13,382.33 L1102.11,381.91 L1103.08,381.49 L1104.06,381.07 L1105.03,380.65 L1106.01,380.24 L1106.99,379.83 L1107.96,379.41 L1108.94,379.01 L1109.91,378.60 L1110.89,378.20 L1111.86,377.80 L1112.84,377.41 L1113.82,377.02 L1114.79,376.63 L1115.77,376.24 L1116.74,375.85 L1117.72,375.46 L1118.70,375.08 L1119.67,374.70 L1120.65,374.32 L1121.62,373.94 L1122.60,373.56 L1123.57,373.18 L1124.55,372.81 L1125.53,372.44 L1126.50,372.07 L1127.48,371.70 L1128.45,371.33 L1129.43,370.96 L1130.41,370.60 L1131.38,370.24 L1132.36,369.87 L1133.33,369.51 L1134.31,369.16 L1135.28,368.80 L1136.26,368.45 L1137.24,368.09 L1138.21,367.74 L1139.19,367.39 L1140.16,367.04 L1141.14,366.70 L1142.12,366.35 L1143.09,366.01 L1144.07,365.67 L1145.04,365.33 L1146.02,364.99 L1146.99,364.65 L1147.97,364.32 L1148.95,363.98 L1149.92,363.65 L1150.90,363.32 L1151.87,362.99 L1152.85,362.67 L1153.83,362.34 L1154.80,362.02 L1155.78,361.70 L1156.75,361.38 L1157.73,361.06 L1158.71,360.74 L1159.68,360.43 L1160.66,360.12 L1161.63,359.81 L1162.61,359.50 L1163.58,359.19 L1164.56,358.89 L1165.54,358.58 L1166.51,358.28 L1167.49,357.98 L1168.46,357.69 L1169.44,357.39 L1170.42,357.10 L1171.39,356.81 L1172.37,356.52 L1173.34,356.23 L1174.32,355.94 L1175.29,355.66 L1176.27,355.38 L1177.25,355.09 L1178.22,354.82 L1179.20,354.54 L1180.17,354.26 L1181.15,353.98 L1182.13,353.70 L1183.10,353.42 L1184.08,353.15 L1185.05,352.87 L1186.03,352.60 L1187.00,352.33 L1187.98,352.06 L1188.96,351.79 L1189.93,351.53 L1190.91,351.26 L1191.88,351.00 L1192.86,350.74 L1193.84,350.48 L1194.81,350.22 L1195.79,349.97 L1196.76,349.71 L1197.74,349.46 L1198.71,349.21 L1199.69,348.96 L1200.67,348.71 L1201.64,348.46 L1202.62,348.22 L1203.59,347.97 L1204.57,347.73 L1205.55,347.49 L1206.52,347.25 L1207.50,347.01 L1208.47,346.78 L1209.45,346.54 L1210.42,346.31 L1211.40,346.07 L1212.38,345.84 L1213.35,345.61 L1214.33,345.39 L1215.30,345.16 L1216.28,344.94 L1217.26,344.71 L1218.23,344.49 L1219.21,344.27 L1220.18,344.05 L1221.16,343.83 L1222.13,343.61 L1223.11,343.39 L1224.09,343.18 L1225.06,342.97 L1226.04,342.75 L1227.01,342.54 L1227.99,342.33 L1228.97,342.12 L1229.94,341.91 L1230.92,341.70 L1231.89,341.50 L1232.87,341.29 L1233.84,341.09 L1234.82,340.88 L1235.80,340.68 L1236.77,340.48 L1237.75,340.28 L1238.72,340.08 L1239.70,339.88 L1240.68,339.68 L1241.65,339.49 L1242.63,339.29 L1243.60,339.09 L1244.58,338.90 L1245.55,338.71 L1246.53,338.52 L1247.51,338.32 L1248.48,338.13 L1249.46,337.94 L1250.43,337.75 L1251.41,337.56 L1252.39,337.37 L1253.36,337.18 L1254.34,336.99 L1255.31,336.80 L1256.29,336.61 L1257.26,336.42 L1258.24,336.24 L1259.22,336.06 L1260.19,335.87 L1261.17,335.69 L1262.14,335.52 L1263.12,335.34 L1264.10,335.16 L1265.07,334.99 L1266.05,334.82 L1267.02,334.65 L1268.00,334.48 L1268.97,334.31 L1269.95,334.14 L1270.93,333.98 L1271.90,333.82 L1272.88,333.65 L1273.85,333.49 L1274.83,333.33 L1275.81,333.18 L1276.78,333.02 L1277.76,332.87 L1278.73,332.71 L1279.71,332.56 L1280.69,332.41 L1281.66,332.26 L1282.64,332.11 L1283.61,331.96 L1284.59,331.82 L1285.56,331.67 L1286.54,331.53 L1287.52,331.38 L1288.49,331.24 L1289.47,331.10 L1290.44,330.96 L1291.42,330.83 L1292.40,330.69 L1293.37,330.56 L1294.35,330.42 L1295.32,330.29 L1296.30,330.16 L1297.27,330.03 L1298.25,329.90 L1299.23,329.77 L1300.20,329.64 L1301.18,329.52 L1302.15,329.39 L1303.13,329.27 L1304.11,329.15 L1305.08,329.03 L1306.06,328.91 L1307.03,328.79 L1308.01,328.67 L1308.98,328.56 L1309.96,328.44 L1310.94,328.33 L1311.91,328.21 L1312.89,328.10 L1313.86,327.99 L1314.84,327.88 L1315.82,327.77 L1316.79,327.66 L1317.77,327.56 L1318.74,327.45 L1319.72,327.35 L1320.69,327.24 L1321.67,327.14 L1322.65,327.04 L1323.62,326.94 L1324.60,326.84 L1325.57,326.74 L1326.55,326.64 L1327.53,326.55 L1328.50,326.45 L1329.48,326.35 L1330.45,326.26 L1331.43,326.17 L1332.40,326.08 L1333.38,325.98 L1334.36,325.89 L1335.33,325.80 L1336.31,325.72 L1337.28,325.63 L1338.26,325.54 L1339.24,325.46 L1340.21,325.37 L1341.19,325.29 L1342.16,325.20 L1343.14,325.12 L1344.11,325.04 L1345.09,324.96 L1346.07,324.88 L1347.04,324.80 L1348.02,324.72 L1348.99,324.64 L1349.97,324.56 L1350.95,324.49 L1351.92,324.41 L1352.90,324.34 L1353.87,324.26 L1354.85,324.19 L1355.82,324.12 L1356.80,324.05 L1357.78,323.98 L1358.75,323.91 L1359.73,323.84 L1360.70,323.77 L1361.68,323.70 L1362.66,323.64 L1363.63,323.57 L1364.61,323.50 L1365.58,323.44 L1366.56,323.38 L1367.53,323.31 L1368.51,323.25 L1369.49,323.19 L1370.46,323.13 L1371.44,323.07 L1372.41,323.01 L1373.39,322.95 L1374.37,322.90 L1375.34,322.84 L1376.32,322.79 L1377.29,322.73 L1378.27,322.68 L1379.24,322.63 L1380.22,322.58 L1381.20,322.53 L1382.17,322.48 L1383.15,322.43 L1384.12,322.38 L1385.10,322.33 L1386.08,322.29 L1387.05,322.24 L1388.03,322.20 L1389.00,322.15 L1389.98,322.11 L1390.95,322.07 L1391.93,322.03 L1392.91,321.99 L1393.88,321.95 L1394.86,321.91 L1395.83,321.87 L1396.81,321.83 L1397.79,321.80 L1398.76,321.76 L1399.74,321.72 L1400.71,321.68 L1401.69,321.64 L1402.67,321.60 L1403.64,321.55 L1404.62,321.51 L1405.59,321.47 L1406.57,321.42 L1407.54,321.38 L1408.52,321.34 L1409.50,321.30 L1410.47,321.26 L1411.45,321.23 L1412.42,321.19 L1413.40,321.15 L1414.38,321.11 L1415.35,321.08 L1416.33,321.04 L1417.30,321.01 L1418.28,320.97 L1419.25,320.94 L1420.23,320.90 L1421.21,320.87 L1422.18,320.84 L1423.16,320.81 L1424.13,320.78 L1425.11,320.74 L1426.09,320.71 L1427.06,320.68 L1428.04,320.65 L1429.01,320.62 L1429.99,320.59 L1430.96,320.57 L1431.94,320.54 L1432.92,320.51 L1433.89,320.48 L1434.87,320.46 L1435.84,320.43 L1436.82,320.40 L1437.80,320.38 L1438.77,320.35 L1439.75,320.33 L1440.72,320.30 L1441.70,320.28 L1442.67,320.26 L1443.65,320.23 L1444.63,320.21 L1445.60,320.19 L1446.58,320.16 L1447.55,320.14 L1448.53,320.12 L1449.51,320.10 L1450.48,320.07 L1451.46,320.05 L1452.43,320.03 L1453.41,320.01 L1454.38,319.99 L1455.36,319.97 L1456.34,319.95 L1457.31,319.93" stroke="#0000ff" stroke-width="4.2"/>
<path d="M775.20,605.40 L776.18,605.16 L777.15,604.91 L778.13,604.66 L779.10,604.40 L780.08,604.14 L781.06,603.88 L782.03,603.60 L783.01,603.31 L783.98,603.01 L784.96,602.71 L785.93,602.38 L786.91,602.05 L787.89,601.70 L788.86,601.34 L789.84,600.96 L790.81,600.57 L791.79,600.16 L792.77,599.74 L793.74,599.30 L794.72,598.85 L795.69,598.39 L796.67,597.91 L797.64,597.42 L798.62,596.91 L799.60,596.39 L800.57,595.86 L801.55,595.32 L802.52,594.76 L803.50,594.19 L804.48,593.62 L805.45,593.03 L806.43,592.43 L807.40,591.82 L808.38,591.20 L809.35,590.58 L810.33,589.94 L811.31,589.30 L812.28,588.65 L813.26,587.99 L814.23,587.33 L815.21,586.66 L816.19,585.98 L817.16,585.29 L818.14,584.60 L819.11,583.91 L820.09,583.20 L821.06,582.49 L822.04,581.78 L823.02,581.06 L823.99,580.33 L824.97,579.60 L825.94,578.86 L826.92,578.12 L827.90,577.37 L828.87,576.62 L829.85,575.86 L830.82,575.10 L831.80,574.33 L832.77,573.56 L833.75,572.79 L834.73,572.01 L835.70,571.22 L836.68,570.43 L837.65,569.64 L838.63,568.84 L839.61,568.04 L840.58,567.24 L841.56,566.43 L842.53,565.62 L843.51,564.81 L844.48,563.99 L845.46,563.17 L846.44,562.35 L847.41,561.53 L848.39,560.70 L849.36,559.87 L850.34,559.04 L851.32,558.21 L852.29,557.37 L853.27,556.54 L854.24,555.70 L855.22,554.86 L856.19,554.01 L857.17,553.17 L858.15,552.33 L859.12,551.48 L860.10,550.63 L861.07,549.78 L862.05,548.93 L863.03,548.08 L864.00,547.23 L864.98,546.38 L865.95,545.53 L866.93,544.67 L867.90,543.82 L868.88,542.96 L869.86,542.10 L870.83,541.25 L871.81,540.39 L872.78,539.53 L873.76,538.67 L874.74,537.81 L875.71,536.94 L876.69,536.08 L877.66,535.22 L878.64,534.35 L879.61,533.49 L880.59,532.62 L881.57,531.76 L882.54,530.89 L883.52,530.03 L884.49,529.17 L885.47,528.30 L886.45,527.44 L887.42,526.58 L888.40,525.71 L889.37,524.85 L890.35,523.99 L891.32,523.14 L892.30,522.28 L893.28,521.42 L894.25,520.57 L895.23,519.72 L896.20,518.87 L897.18,518.02 L898.16,517.18 L899.13,516.33 L900.11,515.49 L901.08,514.65 L902.06,513.81 L903.04,512.97 L904.01,512.13 L904.99,511.30 L905.96,510.46 L906.94,509.63 L907.91,508.79 L908.89,507.96 L909.87,507.13 L910.84,506.30 L911.82,505.47 L912.79,504.64 L913.77,503.81 L914.75,502.98 L915.72,502.16 L916.70,501.33 L917.67,500.50 L918.65,499.68 L919.62,498.85 L920.60,498.03 L921.58,497.20 L922.55,496.38 L923.53,495.55 L924.50,494.73 L925.48,493.91 L926.46,493.09 L927.43,492.27 L928.41,491.45 L929.38,490.63 L930.36,489.82 L931.33,489.00 L932.31,488.19 L933.29,487.37 L934.26,486.56 L935.24,485.75 L936.21,484.94 L937.19,484.13 L938.17,483.33 L939.14,482.52 L940.12,481.72 L941.09,480.91 L942.07,480.11 L943.04,479.31 L944.02,478.52 L945.00,477.72 L945.97,476.93 L946.95,476.14 L947.92,475.35 L948.90,474.56 L949.88,473.77 L950.85,472.99 L951.83,472.20 L952.80,471.43 L953.78,470.65 L954.75,469.87 L955.73,469.10 L956.71,468.33 L957.68,467.56 L958.66,466.79 L959.63,466.03 L960.61,465.27 L961.59,464.51 L962.56,463.76 L963.54,463.00 L964.51,462.25 L965.49,461.51 L966.46,460.76 L967.44,460.02 L968.42,459.28 L969.39,458.55 L970.37,457.82 L971.34,457.09 L972.32,456.36 L973.30,455.64 L974.27,454.92 L975.25,454.20 L976.22,453.49 L977.20,452.78 L978.17,452.07 L979.15,451.37 L980.13,450.67 L981.10,449.97 L982.08,449.28 L983.05,448.59 L984.03,447.90 L985.01,447.22 L985.98,446.54 L986.96,445.86 L987.93,445.19 L988.91,444.52 L989.88,443.86 L990.86,443.20 L991.84,442.54 L992.81,441.88 L993.79,441.23 L994.76,440.58 L995.74,439.94 L996.72,439.29 L997.69,438.66 L998.67,438.02 L999.64,437.39 L1000.62,436.76 L1001.59,436.14 L1002.57,435.51 L1003.55,434.90 L1004.52,434.28 L1005.50,433.67 L1006.47,433.06 L1007.45,432.46 L1008.43,431.85 L1009.40,431.25 L1010.38,430.66 L1011.35,430.07 L1012.33,429.48 L1013.30,428.89 L1014.28,428.31 L1015.26,427.73 L1016.23,427.15 L1017.21,426.58 L1018.18,426.01 L1019.16,425.44 L1020.14,424.88 L1021.11,424.32 L1022.09,423.76 L1023.06,423.20 L1024.04,422.65 L1025.02,422.10 L1025.99,421.55 L1026.97,421.01 L1027.94,420.47 L1028.92,419.93 L1029.89,419.39 L1030.87,418.86 L1031.85,418.33 L1032.82,417.80 L1033.80,417.27 L1034.77,416.74 L1035.75,416.22 L1036.73,415.70 L1037.70,415.18 L1038.68,414.67 L1039.65,414.15 L1040.63,413.64 L1041.60,413.13 L1042.58,412.62 L1043.56,412.11 L1044.53,411.60 L1045.51,411.10 L1046.48,410.60 L1047.46,410.10 L1048.44,409.60 L1049.41,409.10 L1050.39,408.60 L1051.36,408.11 L1052.34,407.62 L1053.31,407.13 L1054.29,406.64 L1055.27,406.15 L1056.24,405.66 L1057.22,405.18 L1058.19,404.70 L1059.17,404.22 L1060.15,403.74 L1061.12,403.26 L1062.10,402.78 L1063.07,402.31 L1064.05,401.83 L1065.02,401.36 L1066.00,400.89 L1066.98,400.42 L1067.95,399.95 L1068.93,399.49 L1069.90,399.02 L1070.88,398.56 L1071.86,398.10 L1072.83,397.64 L1073.81,397.18 L1074.78,396.72 L1075.76,396.26 L1076.73,395.81 L1077.71,395.35 L1078.69,394.90 L1079.66,394.45 L1080.64,394.00 L1081.61,393.55 L1082.59,393.11 L1083.57,392.66 L1084.54,392.21 L1085.52,391.77 L1086.49,391.33 L1087.47,390.89 L1088.44,390.45 L1089.42,390.01 L1090.40,389.57 L1091.37,389.14 L1092.35,388.70 L1093.32,388.27 L1094.30,387.84 L1095.28,387.41 L1096.25,386.98 L1097.23,386.55 L1098.20,386.12 L1099.18,385.70 L1100.15,385.27 L1101.13,384.85 L1102.11,384.43 L1103.08,384.01 L1104.06,383.59 L1105.03,383.17 L1106.01,382.75 L1106.99,382.33 L1107.96,381.92 L1108.94,381.51 L1109.91,381.10 L1110.89,380.69 L1111.86,380.28 L1112.84,379.87 L1113.82,379.46 L1114.79,379.06 L1115.77,378.66 L1116.74,378.25 L1117.72,377.85 L1118.70,377.46 L1119.67,377.06 L1120.65,376.67 L1121.62,376.27 L1122.60,375.88 L1123.57,375.49 L1124.55,375.10 L1125.53,374.72 L1126.50,374.33 L1127.48,373.95 L1128.45,373.57 L1129.43,373.19 L1130.41,372.81 L1131.38,372.43 L1132.36,372.05 L1133.33,371.68 L1134.31,371.31 L1135.28,370.94 L1136.26,370.57 L1137.24,370.20 L1138.21,369.84 L1139.19,369.47 L1140.16,369.11 L1141.14,368.75 L1142.12,368.39 L1143.09,368.04 L1144.07,367.68 L1145.04,367.33 L1146.02,366.97 L1146.99,366.62 L1147.97,366.27 L1148.95,365.93 L1149.92,365.58 L1150.90,365.24 L1151.87,364.90 L1152.85,364.55 L1153.83,364.22 L1154.80,363.88 L1155.78,363.54 L1156.75,363.21 L1157.73,362.88 L1158.71,362.55 L1159.68,362.22 L1160.66,361.89 L1161.63,361.57 L1162.61,361.25 L1163.58,360.93 L1164.56,360.61 L1165.54,360.29 L1166.51,359.98 L1167.49,359.66 L1168.46,359.35 L1169.44,359.04 L1170.42,358.74 L1171.39,358.43 L1172.37,358.13 L1173.34,357.82 L1174.32,357.52 L1175.29,357.22 L1176.27,356.93 L1177.25,356.63 L1178.22,356.34 L1179.20,356.05 L1180.17,355.76 L1181.15,355.47 L1182.13,355.19 L1183.10,354.90 L1184.08,354.62 L1185.05,354.34 L1186.03,354.06 L1187.00,353.78 L1187.98,353.51 L1188.96,353.23 L1189.93,352.96 L1190.91,352.69 L1191.88,352.42 L1192.86,352.15 L1193.84,351.88 L1194.81,351.62 L1195.79,351.35 L1196.76,351.09 L1197.74,350.83 L1198.71,350.57 L1199.69,350.32 L1200.67,350.06 L1201.64,349.81 L1202.62,349.55 L1203.59,349.30 L1204.57,349.05 L1205.55,348.81 L1206.52,348.56 L1207.50,348.32 L1208.47,348.07 L1209.45,347.83 L1210.42,347.59 L1211.40,347.35 L1212.38,347.11 L1213.35,346.88 L1214.33,346.64 L1215.30,346.41 L1216.28,346.18 L1217.26,345.95 L1218.23,345.72 L1219.21,345.49 L1220.18,345.26 L1221.16,345.03 L1222.13,344.81 L1223.11,344.59 L1224.09,344.36 L1225.06,344.14 L1226.04,343.92 L1227.01,343.71 L1227.99,343.49 L1228.97,343.27 L1229.94,343.06 L1230.92,342.84 L1231.89,342.63 L1232.87,342.42 L1233.84,342.20 L1234.82,341.99 L1235.80,341.78 L1236.77,341.57 L1237.75,341.37 L1238.72,341.16 L1239.70,340.95 L1240.68,340.75 L1241.65,340.55 L1242.63,340.34 L1243.60,340.14 L1244.58,339.94 L1245.55,339.74 L1246.53,339.54 L1247.51,339.34 L1248.48,339.14 L1249.46,338.95 L1250.43,338.75 L1251.41,338.56 L1252.39,338.37 L1253.36,338.18 L1254.34,337.99 L1255.31,337.80 L1256.29,337.61 L1257.26,337.42 L1258.24,337.24 L1259.22,337.06 L1260.19,336.87 L1261.17,336.69 L1262.14,336.52 L1263.12,336.34 L1264.10,336.16 L1265.07,335.99 L1266.05,335.82 L1267.02,335.65 L1268.00,335.48 L1268.97,335.31 L1269.95,335.14 L1270.93,334.98 L1271.90,334.82 L1272.88,334.65 L1273.85,334.49 L1274.83,334.33 L1275.81,334.18 L1276.78,334.02 L1277.76,333.87 L1278.73,333.71 L1279.71,333.56 L1280.69,333.41 L1281.66,333.26 L1282.64,333.11 L1283.61,332.96 L1284.59,332.82 L1285.56,332.67 L1286.54,332.53 L1287.52,332.38 L1288.49,332.24 L1289.47,332.10 L1290.44,331.96 L1291.42,331.83 L1292.40,331.69 L1293.37,331.56 L1294.35,331.42 L1295.32,331.29 L1296.30,331.16 L1297.27,331.03 L1298.25,330.90 L1299.23,330.77 L1300.20,330.64 L1301.18,330.52 L1302.15,330.39 L1303.13,330.27 L1304.11,330.15 L1305.08,330.03 L1306.06,329.91 L1307.03,329.79 L1308.01,329.67 L1308.98,329.56 L1309.96,329.44 L1310.94,329.33 L1311.91,329.21 L1312.89,329.10 L1313.86,328.99 L1314.84,328.88 L1315.82,328.77 L1316.79,328.66 L1317.77,328.56 L1318.74,328.45 L1319.72,328.35 L1320.69,328.24 L1321.67,328.14 L1322.65,328.04 L1323.62,327.94 L1324.60,327.84 L1325.57,327.74 L1326.55,327.64 L1327.53,327.55 L1328.50,327.45 L1329.48,327.35 L1330.45,327.26 L1331.43,327.17 L1332.40,327.08 L1333.38,326.98 L1334.36,326.89 L1335.33,326.80 L1336.31,326.72 L1337.28,326.63 L1338.26,326.54 L1339.24,326.46 L1340.21,326.37 L1341.19,326.29 L1342.16,326.20 L1343.14,326.12 L1344.11,326.04 L1345.09,325.96 L1346.07,325.88 L1347.04,325.80 L1348.02,325.72 L1348.99,325.64 L1349.97,325.56 L1350.95,325.49 L1351.92,325.41 L1352.90,325.34 L1353.87,325.26 L1354.85,325.19 L1355.82,325.12 L1356.80,325.05 L1357.78,324.98 L1358.75,324.91 L1359.73,324.84 L1360.70,324.77 L1361.68,324.70 L1362.66,324.64 L1363.63,324.57 L1364.61,324.50 L1365.58,324.44 L1366.56,324.38 L1367.53,324.31 L1368.51,324.25 L1369.49,324.19 L1370.46,324.13 L1371.44,324.07 L1372.41,324.01 L1373.39,323.95 L1374.37,323.90 L1375.34,323.84 L1376.32,323.79 L1377.29,323.73 L1378.27,323.68 L1379.24,323.63 L1380.22,323.58 L1381.20,323.53 L1382.17,323.48 L1383.15,323.43 L1384.12,323.38 L1385.10,323.33 L1386.08,323.29 L1387.05,323.24 L1388.03,323.20 L1389.00,323.15 L1389.98,323.11 L1390.95,323.07 L1391.93,323.03 L1392.91,322.99 L1393.88,322.95 L1394.86,322.91 L1395.83,322.87 L1396.81,322.83 L1397.79,322.80 L1398.76,322.76 L1399.74,322.73 L1400.71,322.69 L1401.69,322.66 L1402.67,322.63 L1403.64,322.60 L1404.62,322.56 L1405.59,322.53 L1406.57,322.50 L1407.54,322.47 L1408.52,322.45 L1409.50,322.42 L1410.47,322.39 L1411.45,322.36 L1412.42,322.34 L1413.40,322.31 L1414.38,322.29 L1415.35,322.26 L1416.33,322.24 L1417.30,322.22 L1418.28,322.19 L1419.25,322.17 L1420.23,322.15 L1421.21,322.13 L1422.18,322.11 L1423.16,322.09 L1424.13,322.07 L1425.11,322.05 L1426.09,322.03 L1427.06,322.01 L1428.04,321.99 L1429.01,321.98 L1429.99,321.96 L1430.96,321.94 L1431.94,321.92 L1432.92,321.91 L1433.89,321.89 L1434.87,321.88 L1435.84,321.86 L1436.82,321.85 L1437.80,321.84 L1438.77,321.82 L1439.75,321.81 L1440.72,321.80 L1441.70,321.78 L1442.67,321.77 L1443.65,321.76 L1444.63,321.75 L1445.60,321.74 L1446.58,321.73 L1447.55,321.72 L1448.53,321.71 L1449.51,321.70 L1450.48,321.69 L1451.46,321.68 L1452.43,321.67 L1453.41,321.66 L1454.38,321.65 L1455.36,321.64 L1456.34,321.63 L1457.31,321.62" stroke="#ff0000" stroke-width="4.2"/>
</g>
<rect x="767.5" y="3.8" width="690.3" height="652.45" fill="none" stroke="#000" stroke-width="2.2"/>
<line x1="767.5" y1="572.06" x2="776.1" y2="572.06" stroke="#000" stroke-width="2.2"/>
<text x="753.3" y="583.36" class="dv" font-size="30.56" text-anchor="end" fill="#000">0.4</text>
<line x1="767.5" y1="445.78" x2="776.1" y2="445.78" stroke="#000" stroke-width="2.2"/>
<text x="753.3" y="457.08" class="dv" font-size="30.56" text-anchor="end" fill="#000">0.7</text>
<line x1="767.5" y1="319.50" x2="776.1" y2="319.50" stroke="#000" stroke-width="2.2"/>
<text x="753.3" y="330.80" class="dv" font-size="30.56" text-anchor="end" fill="#000">1.0</text>
<line x1="767.5" y1="193.22" x2="776.1" y2="193.22" stroke="#000" stroke-width="2.2"/>
<text x="753.3" y="204.52" class="dv" font-size="30.56" text-anchor="end" fill="#000">1.3</text>
<line x1="767.5" y1="66.94" x2="776.1" y2="66.94" stroke="#000" stroke-width="2.2"/>
<text x="753.3" y="78.24" class="dv" font-size="30.56" text-anchor="end" fill="#000">1.6</text>
<line x1="957.58" y1="656.25" x2="957.58" y2="647.65" stroke="#000" stroke-width="2.2"/>
<text x="957.58" y="694.5" class="dv" font-size="30.56" text-anchor="middle" fill="#000">100</text>
<line x1="1157.67" y1="656.25" x2="1157.67" y2="647.65" stroke="#000" stroke-width="2.2"/>
<text x="1157.67" y="694.5" class="dv" font-size="30.56" text-anchor="middle" fill="#000">200</text>
<line x1="1357.76" y1="656.25" x2="1357.76" y2="647.65" stroke="#000" stroke-width="2.2"/>
<text x="1357.76" y="694.5" class="dv" font-size="30.56" text-anchor="middle" fill="#000">300</text>
<text x="1114.9" y="740" class="dv" font-size="30.8" text-anchor="middle" fill="#000">Temperature (K)</text>
<text transform="translate(675.7,332.4) rotate(-90)" class="dv" font-size="30.56" text-anchor="middle" textLength="110.8" lengthAdjust="spacing" fill="#000"><tspan font-style="italic">R</tspan> / <tspan font-style="italic">R</tspan><tspan font-size="21.4" dy="6">350</tspan></text>
<text x="1444.6" y="51.7" class="ar" stroke="#000" font-size="30" text-anchor="end" fill="#000">bulk crystal</text>
<text x="1449.2" y="170.4" class="ar" stroke="#000" font-size="30" text-anchor="end" fill="#000">35 nm flake</text>
<text x="1447.0" y="290.3" class="ar" stroke="#000" font-size="30" text-anchor="end" fill="#000">8 nm flake</text>
<text x="1115.3" y="101.3" class="ar" stroke="#0000ff" font-size="30" fill="#0000ff">cooling</text>
<text x="1174" y="177.2" class="ar" stroke="#ff0000" font-size="30" fill="#ff0000">heating</text>
<defs><clipPath id="clipC2"><rect x="1601" y="3.2" width="400" height="652.45"/></clipPath></defs>
<g clip-path="url(#clipC2)">
<path d="M1600.30,155.00 L1602.30,177.00 L1603.30,230.00 L1609.00,330.00 L1613.80,400.00 L1621.50,451.00 L1630.40,484.00 L1639.30,507.00 L1648.00,516.70 L1656.60,521.00 L1665.30,521.80 L1674.00,519.70 L1682.60,515.20 L1691.30,510.00 L1699.90,505.70 L1708.60,502.40 L1717.50,501.90 L1726.20,503.90 L1734.90,509.60 L1743.50,518.50 L1752.20,526.90 L1760.80,536.30 L1769.80,545.20 L1778.20,554.10 L1787.10,561.80 L1795.70,568.50 L1817.90,578.70 L1840.00,585.30 L1863.60,589.70 L1884.20,593.40 L1899.00,595.60 L1928.40,601.50 L1950.50,605.20 L1972.70,609.60 L2000.00,613.50" fill="none" stroke="#ff0000" stroke-width="4.0" stroke-dasharray="15.7 6.8" stroke-linejoin="round"/>
<path d="M1604.75,-60.00 L1613.40,5.90 L1622.10,71.00 L1630.80,106.50 L1639.50,128.00 L1648.20,144.00 L1656.90,156.50 L1665.60,166.00 L1674.30,174.00 L1683.00,181.00 L1691.70,187.00 L1700.40,192.30 L1709.10,197.00 L1717.80,201.50 L1726.50,205.50 L1735.20,209.50 L1743.90,213.00 L1752.60,216.50 L1761.30,219.80 L1770.00,223.00 L1778.70,225.80 L1787.40,228.30 L1796.00,230.60 L1813.00,234.00 L1830.00,236.40 L1856.00,238.30 L1891.00,239.60 L1925.00,240.30 L1960.00,240.20 L2000.00,239.80" fill="none" stroke="#ff0000" stroke-width="4.0" stroke-linejoin="round"/>
<path d="M1601.00,112.00 L1607.10,165.00 L1613.30,197.60 L1622.00,252.00 L1630.60,289.00 L1639.30,313.00 L1648.00,331.00 L1656.60,344.50 L1665.30,355.00 L1674.00,362.50 L1682.60,369.60 L1691.50,374.70 L1699.20,374.70 L1705.60,367.60 L1711.90,354.80 L1717.50,337.00 L1726.20,291.10 L1734.90,268.20 L1743.50,277.10 L1752.20,316.60 L1760.80,359.90 L1769.80,385.40 L1778.20,398.20 L1787.10,403.50 L1795.70,406.40 L1825.00,410.10 L1869.50,414.30 L1913.70,417.50 L1943.20,419.00 L1987.40,420.20 L2000.00,420.40" fill="none" stroke="#0000ff" stroke-width="4.0" stroke-linejoin="round"/>
<circle cx="1613.44" cy="5.9" r="5.4" fill="#ff0000"/>
<circle cx="1622.14" cy="71.8" r="5.4" fill="#ff0000"/>
<circle cx="1630.84" cy="109.6" r="5.4" fill="#ff0000"/>
<circle cx="1639.53" cy="125.3" r="5.4" fill="#ff0000"/>
<circle cx="1648.22" cy="141.2" r="5.4" fill="#ff0000"/>
<circle cx="1656.92" cy="162.2" r="5.4" fill="#ff0000"/>
<circle cx="1665.62" cy="165.9" r="5.4" fill="#ff0000"/>
<circle cx="1674.31" cy="173.0" r="5.4" fill="#ff0000"/>
<circle cx="1683.01" cy="181.5" r="5.4" fill="#ff0000"/>
<circle cx="1691.70" cy="186.5" r="5.4" fill="#ff0000"/>
<circle cx="1700.39" cy="189.3" r="5.4" fill="#ff0000"/>
<circle cx="1709.09" cy="194.0" r="5.4" fill="#ff0000"/>
<circle cx="1717.79" cy="194.0" r="5.4" fill="#ff0000"/>
<circle cx="1726.48" cy="205.2" r="5.4" fill="#ff0000"/>
<circle cx="1735.17" cy="204.1" r="5.4" fill="#ff0000"/>
<circle cx="1743.87" cy="211.6" r="5.4" fill="#ff0000"/>
<circle cx="1752.57" cy="218.5" r="5.4" fill="#ff0000"/>
<circle cx="1761.26" cy="221.2" r="5.4" fill="#ff0000"/>
<circle cx="1769.95" cy="221.2" r="5.4" fill="#ff0000"/>
<circle cx="1778.65" cy="228.1" r="5.4" fill="#ff0000"/>
<circle cx="1787.35" cy="233.5" r="5.4" fill="#ff0000"/>
<circle cx="1796.04" cy="228.3" r="5.4" fill="#ff0000"/>
<circle cx="1804.74" cy="231.2" r="5.4" fill="#ff0000"/>
<circle cx="1813.43" cy="238.3" r="5.4" fill="#ff0000"/>
<circle cx="1822.12" cy="235.3" r="5.4" fill="#ff0000"/>
<circle cx="1830.82" cy="241.7" r="5.4" fill="#ff0000"/>
<circle cx="1839.52" cy="233.4" r="5.4" fill="#ff0000"/>
<circle cx="1848.21" cy="232.7" r="5.4" fill="#ff0000"/>
<circle cx="1856.90" cy="236.0" r="5.4" fill="#ff0000"/>
<circle cx="1865.60" cy="241.2" r="5.4" fill="#ff0000"/>
<circle cx="1874.30" cy="231.6" r="5.4" fill="#ff0000"/>
<circle cx="1882.99" cy="238.7" r="5.4" fill="#ff0000"/>
<circle cx="1891.68" cy="248.3" r="5.4" fill="#ff0000"/>
<circle cx="1900.38" cy="237.2" r="5.4" fill="#ff0000"/>
<circle cx="1909.08" cy="241.7" r="5.4" fill="#ff0000"/>
<circle cx="1917.77" cy="242.2" r="5.4" fill="#ff0000"/>
<circle cx="1926.47" cy="244.9" r="5.4" fill="#ff0000"/>
<circle cx="1935.16" cy="240.8" r="5.4" fill="#ff0000"/>
<circle cx="1943.86" cy="241.9" r="5.4" fill="#ff0000"/>
<circle cx="1952.55" cy="235.3" r="5.4" fill="#ff0000"/>
<circle cx="1961.24" cy="240.2" r="5.4" fill="#ff0000"/>
<circle cx="1969.94" cy="234.9" r="5.4" fill="#ff0000"/>
<circle cx="1978.63" cy="246.1" r="5.4" fill="#ff0000"/>
<circle cx="1987.33" cy="241.2" r="5.4" fill="#ff0000"/>
<circle cx="1996.03" cy="240.8" r="5.4" fill="#ff0000"/>
<circle cx="1604.75" cy="80.4" r="5.4" fill="#0000ff"/>
<circle cx="1613.44" cy="197.6" r="5.4" fill="#0000ff"/>
<circle cx="1622.14" cy="256.2" r="5.4" fill="#0000ff"/>
<circle cx="1630.84" cy="290.4" r="5.4" fill="#0000ff"/>
<circle cx="1639.53" cy="315.9" r="5.4" fill="#0000ff"/>
<circle cx="1648.22" cy="330.6" r="5.4" fill="#0000ff"/>
<circle cx="1656.92" cy="342.6" r="5.4" fill="#0000ff"/>
<circle cx="1665.62" cy="352.8" r="5.4" fill="#0000ff"/>
<circle cx="1674.31" cy="355.4" r="5.4" fill="#0000ff"/>
<circle cx="1683.01" cy="366.3" r="5.4" fill="#0000ff"/>
<circle cx="1691.70" cy="364.5" r="5.4" fill="#0000ff"/>
<circle cx="1700.39" cy="357.9" r="5.4" fill="#0000ff"/>
<circle cx="1709.09" cy="340.3" r="5.4" fill="#0000ff"/>
<circle cx="1717.79" cy="333.7" r="5.4" fill="#0000ff"/>
<circle cx="1726.48" cy="314.8" r="5.4" fill="#0000ff"/>
<circle cx="1735.17" cy="263.6" r="5.4" fill="#0000ff"/>
<circle cx="1743.87" cy="257.5" r="5.4" fill="#0000ff"/>
<circle cx="1752.57" cy="322.2" r="5.4" fill="#0000ff"/>
<circle cx="1761.26" cy="369.6" r="5.4" fill="#0000ff"/>
<circle cx="1769.95" cy="390.0" r="5.4" fill="#0000ff"/>
<circle cx="1778.65" cy="401.2" r="5.4" fill="#0000ff"/>
<circle cx="1787.35" cy="405.0" r="5.4" fill="#0000ff"/>
<circle cx="1796.04" cy="410.9" r="5.4" fill="#0000ff"/>
<circle cx="1804.74" cy="419.7" r="5.4" fill="#0000ff"/>
<circle cx="1813.43" cy="406.7" r="5.4" fill="#0000ff"/>
<circle cx="1822.12" cy="415.3" r="5.4" fill="#0000ff"/>
<circle cx="1830.82" cy="411.6" r="5.4" fill="#0000ff"/>
<circle cx="1839.52" cy="417.5" r="5.4" fill="#0000ff"/>
<circle cx="1848.21" cy="410.4" r="5.4" fill="#0000ff"/>
<circle cx="1856.90" cy="414.1" r="5.4" fill="#0000ff"/>
<circle cx="1865.60" cy="417.8" r="5.4" fill="#0000ff"/>
<circle cx="1874.30" cy="417.1" r="5.4" fill="#0000ff"/>
<circle cx="1882.99" cy="416.0" r="5.4" fill="#0000ff"/>
<circle cx="1891.68" cy="425.3" r="5.4" fill="#0000ff"/>
<circle cx="1900.38" cy="414.6" r="5.4" fill="#0000ff"/>
<circle cx="1909.08" cy="415.1" r="5.4" fill="#0000ff"/>
<circle cx="1917.77" cy="414.0" r="5.4" fill="#0000ff"/>
<circle cx="1926.47" cy="417.5" r="5.4" fill="#0000ff"/>
<circle cx="1935.16" cy="424.1" r="5.4" fill="#0000ff"/>
<circle cx="1943.86" cy="421.9" r="5.4" fill="#0000ff"/>
<circle cx="1952.55" cy="414.3" r="5.4" fill="#0000ff"/>
<circle cx="1961.24" cy="419.4" r="5.4" fill="#0000ff"/>
<circle cx="1969.94" cy="419.7" r="5.4" fill="#0000ff"/>
<circle cx="1978.63" cy="414.3" r="5.4" fill="#0000ff"/>
<circle cx="1987.33" cy="416.0" r="5.4" fill="#0000ff"/>
<circle cx="1996.03" cy="418.7" r="5.4" fill="#0000ff"/>
<circle cx="1604.75" cy="301.3" r="4.9" fill="none" stroke="#ff0000" stroke-width="2.3"/>
<circle cx="1613.44" cy="385.4" r="4.9" fill="none" stroke="#ff0000" stroke-width="2.3"/>
<circle cx="1622.14" cy="468.8" r="4.9" fill="none" stroke="#ff0000" stroke-width="2.3"/>
<circle cx="1630.84" cy="483.3" r="4.9" fill="none" stroke="#ff0000" stroke-width="2.3"/>
<circle cx="1639.53" cy="506.5" r="4.9" fill="none" stroke="#ff0000" stroke-width="2.3"/>
<circle cx="1648.22" cy="512.1" r="4.9" fill="none" stroke="#ff0000" stroke-width="2.3"/>
<circle cx="1656.92" cy="520.3" r="4.9" fill="none" stroke="#ff0000" stroke-width="2.3"/>
<circle cx="1665.62" cy="516.4" r="4.9" fill="none" stroke="#ff0000" stroke-width="2.3"/>
<circle cx="1674.31" cy="525.6" r="4.9" fill="none" stroke="#ff0000" stroke-width="2.3"/>
<circle cx="1683.01" cy="515.9" r="4.9" fill="none" stroke="#ff0000" stroke-width="2.3"/>
<circle cx="1691.70" cy="510.8" r="4.9" fill="none" stroke="#ff0000" stroke-width="2.3"/>
<circle cx="1700.39" cy="508.3" r="4.9" fill="none" stroke="#ff0000" stroke-width="2.3"/>
<circle cx="1709.09" cy="496.3" r="4.9" fill="none" stroke="#ff0000" stroke-width="2.3"/>
<circle cx="1717.79" cy="510.1" r="4.9" fill="none" stroke="#ff0000" stroke-width="2.3"/>
<circle cx="1726.48" cy="508.3" r="4.9" fill="none" stroke="#ff0000" stroke-width="2.3"/>
<circle cx="1735.17" cy="498.1" r="4.9" fill="none" stroke="#ff0000" stroke-width="2.3"/>
<circle cx="1743.87" cy="520.3" r="4.9" fill="none" stroke="#ff0000" stroke-width="2.3"/>
<circle cx="1752.57" cy="518.0" r="4.9" fill="none" stroke="#ff0000" stroke-width="2.3"/>
<circle cx="1761.26" cy="535.0" r="4.9" fill="none" stroke="#ff0000" stroke-width="2.3"/>
<circle cx="1769.95" cy="541.9" r="4.9" fill="none" stroke="#ff0000" stroke-width="2.3"/>
<circle cx="1778.65" cy="565.1" r="4.9" fill="none" stroke="#ff0000" stroke-width="2.3"/>
<circle cx="1787.35" cy="564.7" r="4.9" fill="none" stroke="#ff0000" stroke-width="2.3"/>
<circle cx="1796.04" cy="571.7" r="4.9" fill="none" stroke="#ff0000" stroke-width="2.3"/>
<circle cx="1804.74" cy="572.0" r="4.9" fill="none" stroke="#ff0000" stroke-width="2.3"/>
<circle cx="1813.43" cy="582.8" r="4.9" fill="none" stroke="#ff0000" stroke-width="2.3"/>
<circle cx="1822.12" cy="573.1" r="4.9" fill="none" stroke="#ff0000" stroke-width="2.3"/>
<circle cx="1830.82" cy="579.1" r="4.9" fill="none" stroke="#ff0000" stroke-width="2.3"/>
<circle cx="1839.52" cy="584.3" r="4.9" fill="none" stroke="#ff0000" stroke-width="2.3"/>
<circle cx="1848.21" cy="585.7" r="4.9" fill="none" stroke="#ff0000" stroke-width="2.3"/>
<circle cx="1856.90" cy="588.2" r="4.9" fill="none" stroke="#ff0000" stroke-width="2.3"/>
<circle cx="1865.60" cy="593.0" r="4.9" fill="none" stroke="#ff0000" stroke-width="2.3"/>
<circle cx="1874.30" cy="591.9" r="4.9" fill="none" stroke="#ff0000" stroke-width="2.3"/>
<circle cx="1882.99" cy="586.3" r="4.9" fill="none" stroke="#ff0000" stroke-width="2.3"/>
<circle cx="1891.68" cy="582.8" r="4.9" fill="none" stroke="#ff0000" stroke-width="2.3"/>
<circle cx="1900.38" cy="608.6" r="4.9" fill="none" stroke="#ff0000" stroke-width="2.3"/>
<circle cx="1909.08" cy="594.4" r="4.9" fill="none" stroke="#ff0000" stroke-width="2.3"/>
<circle cx="1917.77" cy="600.8" r="4.9" fill="none" stroke="#ff0000" stroke-width="2.3"/>
<circle cx="1926.47" cy="612.3" r="4.9" fill="none" stroke="#ff0000" stroke-width="2.3"/>
<circle cx="1935.16" cy="606.7" r="4.9" fill="none" stroke="#ff0000" stroke-width="2.3"/>
<circle cx="1943.86" cy="609.6" r="4.9" fill="none" stroke="#ff0000" stroke-width="2.3"/>
<circle cx="1952.55" cy="602.5" r="4.9" fill="none" stroke="#ff0000" stroke-width="2.3"/>
<circle cx="1961.24" cy="606.7" r="4.9" fill="none" stroke="#ff0000" stroke-width="2.3"/>
<circle cx="1969.94" cy="602.2" r="4.9" fill="none" stroke="#ff0000" stroke-width="2.3"/>
<circle cx="1978.63" cy="605.5" r="4.9" fill="none" stroke="#ff0000" stroke-width="2.3"/>
<circle cx="1987.33" cy="606.4" r="4.9" fill="none" stroke="#ff0000" stroke-width="2.3"/>
<circle cx="1996.03" cy="610.4" r="4.9" fill="none" stroke="#ff0000" stroke-width="2.3"/>
</g>
<rect x="1601.0" y="3.2" width="399.20000000000005" height="652.4499999999999" fill="none" stroke="#000" stroke-width="2.2"/>
<line x1="1694.93" y1="655.65" x2="1694.93" y2="647.05" stroke="#000" stroke-width="2.2"/>
<text x="1694.93" y="694.5" class="dv" font-size="30.56" text-anchor="middle" fill="#000">10</text>
<line x1="1812.34" y1="655.65" x2="1812.34" y2="647.05" stroke="#000" stroke-width="2.2"/>
<text x="1812.34" y="694.5" class="dv" font-size="30.56" text-anchor="middle" fill="#000">15</text>
<line x1="1929.75" y1="655.65" x2="1929.75" y2="647.05" stroke="#000" stroke-width="2.2"/>
<text x="1929.75" y="694.5" class="dv" font-size="30.56" text-anchor="middle" fill="#000">20</text>
<text x="1799.6" y="741" class="dv" font-size="30.15" text-anchor="middle" fill="#000">Wavenumber (cm<tspan font-size="21.1" dy="-11.3">−1</tspan><tspan dy="11.3">)</tspan></text>
<text transform="translate(1578,329.6) rotate(-90)" class="dv" font-size="30.56" text-anchor="middle" fill="#000">Intensity (a.u.)</text>
<text x="1975.8" y="48.6" class="ar" stroke="#000" font-size="30" text-anchor="end" fill="#000">90 nm flake</text>
<text transform="translate(1893.5,83.7) scale(1,1.04)" class="ar" stroke="#000" font-size="30" fill="#000">295 K</text>
<text transform="translate(1893.5,119.1) scale(1,1.04)" class="ar" stroke="#000" font-size="30" fill="#000">80 K</text>
<line x1="1848.5" y1="72.4" x2="1886" y2="72.4" stroke="#ed1c24" stroke-width="3.2"/><circle cx="1867.1" cy="72.4" r="6" fill="#ed1c24"/>
<line x1="1848.5" y1="106.5" x2="1886" y2="106.5" stroke="#0000ff" stroke-width="3.2"/><circle cx="1867.1" cy="106.5" r="6" fill="#0000ff"/>
<text x="1972.5" y="515.05" class="ar" stroke="#000" font-size="30" text-anchor="end" fill="#000">7 nm flake</text>
<text transform="translate(1891.5,550) scale(1,1.04)" class="ar" stroke="#000" font-size="30" fill="#000">295 K</text>
<path d="M1838.3,538.7 H1842.8 M1846.8,538.7 H1875.8 M1879.8,538.7 H1884.2" stroke="#ed1c24" stroke-width="3.2" fill="none"/><circle cx="1861.0" cy="538.7" r="5.6" fill="none" stroke="#ed1c24" stroke-width="2.3"/>
</svg>
</body></html>
